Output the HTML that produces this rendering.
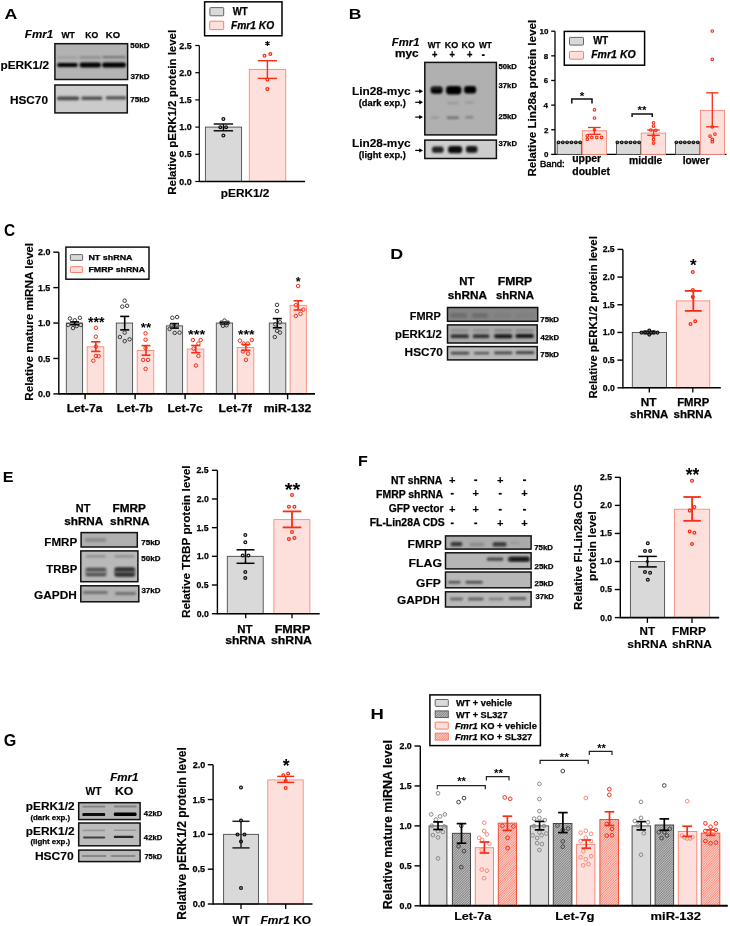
<!DOCTYPE html><html><head><meta charset="utf-8"><style>html,body{margin:0;padding:0;background:#fff;}svg{display:block;will-change:transform;}text{font-family:"Liberation Sans",sans-serif;}</style></head><body>
<svg width="730" height="926" viewBox="0 0 730 926">
<defs>
<filter id="bl1" x="-50%" y="-100%" width="200%" height="300%"><feGaussianBlur stdDeviation="0.85"/></filter>
<filter id="bl2" x="-50%" y="-100%" width="200%" height="300%"><feGaussianBlur stdDeviation="1.2"/></filter>
<filter id="bl4" x="-50%" y="-100%" width="200%" height="300%"><feGaussianBlur stdDeviation="0.65"/></filter>
<filter id="bl3" x="-50%" y="-100%" width="200%" height="300%"><feGaussianBlur stdDeviation="0.45"/></filter>
<pattern id="hg" patternUnits="userSpaceOnUse" width="1.7" height="1.7" patternTransform="rotate(45)"><rect width="1.7" height="1.7" fill="#c2c2c2"/><rect width="0.65" height="1.7" fill="#6e6e6e"/></pattern>
<pattern id="hp" patternUnits="userSpaceOnUse" width="1.7" height="1.7" patternTransform="rotate(45)"><rect width="1.7" height="1.7" fill="#fdd6d0"/><rect width="0.6" height="1.7" fill="#f46a56"/></pattern>
</defs>
<rect width="730" height="926" fill="#fff"/>
<text x="4.46" y="19.20" style="font-size:14.80px;font-weight:bold;stroke:#000;stroke-width:0.00px" fill="#000" textLength="12.83" lengthAdjust="spacingAndGlyphs">A</text>
<text x="24.87" y="38.20" style="font-size:11.56px;font-weight:bold;font-style:italic;stroke:#000;stroke-width:0.15px" fill="#000" textLength="28.27" lengthAdjust="spacingAndGlyphs">Fmr1</text>
<text x="61.50" y="37.70" style="font-size:9.40px;font-weight:bold;stroke:#000;stroke-width:0.25px" fill="#000" textLength="13.38" lengthAdjust="spacingAndGlyphs">WT</text>
<text x="85.34" y="37.70" style="font-size:9.20px;font-weight:bold;stroke:#000;stroke-width:0.25px" fill="#000" textLength="12.95" lengthAdjust="spacingAndGlyphs">KO</text>
<text x="105.89" y="37.70" style="font-size:9.20px;font-weight:bold;stroke:#000;stroke-width:0.25px" fill="#000" textLength="14.14" lengthAdjust="spacingAndGlyphs">KO</text>
<g>
<clipPath id="c17"><rect x="54.90" y="43.70" width="72.70" height="35.80"/></clipPath>
<rect x="54.90" y="43.70" width="72.70" height="35.80" fill="#b3b3b3" stroke="none" stroke-width="1.00" />
<g clip-path="url(#c17)">
<rect x="57.00" y="56.20" width="20.40" height="2.20" rx="0.88" fill="#8a8a8a" opacity="0.50" filter="url(#bl1)"/>
<rect x="79.70" y="56.20" width="21.00" height="2.20" rx="0.88" fill="#6a6a6a" opacity="0.60" filter="url(#bl1)"/>
<rect x="102.40" y="56.10" width="23.30" height="2.20" rx="0.88" fill="#5a5a5a" opacity="0.70" filter="url(#bl1)"/>
<rect x="57.30" y="63.10" width="20.30" height="3.80" rx="1.52" fill="#000" opacity="1.00" filter="url(#bl1)"/>
<rect x="79.70" y="62.50" width="21.20" height="5.00" rx="2.00" fill="#000" opacity="1.00" filter="url(#bl1)"/>
<rect x="102.20" y="62.50" width="23.70" height="5.00" rx="2.00" fill="#000" opacity="1.00" filter="url(#bl1)"/>
</g>
<rect x="54.90" y="43.70" width="72.70" height="35.80" fill="none" stroke="#111" stroke-width="1.50" />
</g>
<g>
<clipPath id="c30"><rect x="54.90" y="85.00" width="72.40" height="27.90"/></clipPath>
<rect x="54.90" y="85.00" width="72.40" height="27.90" fill="#cbcbcb" stroke="none" stroke-width="1.00" />
<g clip-path="url(#c30)">
<rect x="57.00" y="96.50" width="22.10" height="3.80" rx="1.52" fill="#333" opacity="0.85" filter="url(#bl1)"/>
<rect x="81.40" y="96.60" width="21.00" height="3.40" rx="1.36" fill="#333" opacity="0.80" filter="url(#bl1)"/>
<rect x="105.90" y="96.20" width="20.40" height="3.40" rx="1.36" fill="#333" opacity="0.80" filter="url(#bl1)"/>
</g>
<rect x="54.90" y="85.00" width="72.40" height="27.90" fill="none" stroke="#111" stroke-width="1.50" />
</g>
<text x="0.43" y="69.10" style="font-size:11.81px;font-weight:bold;stroke:#000;stroke-width:0.15px" fill="#000" textLength="48.57" lengthAdjust="spacingAndGlyphs">pERK1/2</text>
<text x="9.93" y="103.90" style="font-size:11.79px;font-weight:bold;stroke:#000;stroke-width:0.15px" fill="#000" textLength="38.02" lengthAdjust="spacingAndGlyphs">HSC70</text>
<text x="130.36" y="48.20" style="font-size:7.30px;font-weight:bold;stroke:#000;stroke-width:0.25px" fill="#000" textLength="19.17" lengthAdjust="spacingAndGlyphs">50kD</text>
<text x="130.40" y="78.80" style="font-size:7.30px;font-weight:bold;stroke:#000;stroke-width:0.25px" fill="#000" textLength="19.13" lengthAdjust="spacingAndGlyphs">37kD</text>
<text x="130.28" y="102.00" style="font-size:7.30px;font-weight:bold;stroke:#000;stroke-width:0.25px" fill="#000" textLength="19.25" lengthAdjust="spacingAndGlyphs">75kD</text>
<rect x="205.40" y="127.10" width="36.20" height="54.40" fill="#d9d9d9" stroke="#4a4a4a" stroke-width="0.90" />
<rect x="249.30" y="69.40" width="36.40" height="112.10" fill="#fde0dc" stroke="#f58a78" stroke-width="0.90" />
<line x1="199.30" y1="45.50" x2="199.30" y2="182.10" stroke="#000" stroke-width="1.20" />
<line x1="195.30" y1="181.50" x2="199.30" y2="181.50" stroke="#000" stroke-width="1.20" />
<text x="179.39" y="184.56" style="font-size:8.90px;font-weight:bold;stroke:#000;stroke-width:0.25px" fill="#000" textLength="12.37" lengthAdjust="spacingAndGlyphs">0.0</text>
<line x1="195.30" y1="154.30" x2="199.30" y2="154.30" stroke="#000" stroke-width="1.20" />
<text x="179.25" y="157.36" style="font-size:8.90px;font-weight:bold;stroke:#000;stroke-width:0.25px" fill="#000" textLength="12.37" lengthAdjust="spacingAndGlyphs">0.5</text>
<line x1="195.30" y1="127.10" x2="199.30" y2="127.10" stroke="#000" stroke-width="1.20" />
<text x="179.39" y="130.16" style="font-size:8.90px;font-weight:bold;stroke:#000;stroke-width:0.25px" fill="#000" textLength="12.37" lengthAdjust="spacingAndGlyphs">1.0</text>
<line x1="195.30" y1="99.90" x2="199.30" y2="99.90" stroke="#000" stroke-width="1.20" />
<text x="179.25" y="102.96" style="font-size:8.90px;font-weight:bold;stroke:#000;stroke-width:0.25px" fill="#000" textLength="12.37" lengthAdjust="spacingAndGlyphs">1.5</text>
<line x1="195.30" y1="72.70" x2="199.30" y2="72.70" stroke="#000" stroke-width="1.20" />
<text x="179.39" y="75.76" style="font-size:8.90px;font-weight:bold;stroke:#000;stroke-width:0.25px" fill="#000" textLength="12.37" lengthAdjust="spacingAndGlyphs">2.0</text>
<line x1="195.30" y1="45.50" x2="199.30" y2="45.50" stroke="#000" stroke-width="1.20" />
<text x="179.25" y="48.56" style="font-size:8.90px;font-weight:bold;stroke:#000;stroke-width:0.25px" fill="#000" textLength="12.37" lengthAdjust="spacingAndGlyphs">2.5</text>
<line x1="199.30" y1="181.50" x2="305.00" y2="181.50" stroke="#000" stroke-width="1.30" />
<line x1="213.70" y1="124.00" x2="233.10" y2="124.00" stroke="#000" stroke-width="1.40" />
<line x1="213.70" y1="130.80" x2="233.10" y2="130.80" stroke="#000" stroke-width="1.40" />
<line x1="223.40" y1="124.00" x2="223.40" y2="130.80" stroke="#000" stroke-width="1.40" />
<line x1="257.80" y1="60.70" x2="277.00" y2="60.70" stroke="#f72e16" stroke-width="1.40" />
<line x1="257.80" y1="78.40" x2="277.00" y2="78.40" stroke="#f72e16" stroke-width="1.40" />
<line x1="267.40" y1="60.70" x2="267.40" y2="78.40" stroke="#f72e16" stroke-width="1.40" />
<circle cx="223.40" cy="119.00" r="1.40" fill="none" stroke="#111" stroke-width="1.25"/>
<circle cx="220.30" cy="127.30" r="1.40" fill="none" stroke="#111" stroke-width="1.25"/>
<circle cx="226.10" cy="127.30" r="1.40" fill="none" stroke="#111" stroke-width="1.25"/>
<circle cx="223.40" cy="135.40" r="1.40" fill="none" stroke="#111" stroke-width="1.25"/>
<circle cx="264.50" cy="55.80" r="1.40" fill="none" stroke="#f72e16" stroke-width="1.25"/>
<circle cx="270.30" cy="53.90" r="1.40" fill="none" stroke="#f72e16" stroke-width="1.25"/>
<circle cx="267.40" cy="79.60" r="1.40" fill="none" stroke="#f72e16" stroke-width="1.25"/>
<circle cx="267.40" cy="89.10" r="1.40" fill="none" stroke="#f72e16" stroke-width="1.25"/>
<path d="M267.45 41.10 L267.45 46.10 M265.28 42.35 L269.62 44.85 M269.62 42.35 L265.28 44.85 " stroke="#000" stroke-width="1.15" fill="none" />
<rect x="204.60" y="1.85" width="77.40" height="33.90" fill="#fff" stroke="#000" stroke-width="1.50" />
<rect x="209.90" y="7.60" width="13.80" height="8.20" fill="#d9d9d9" stroke="#555" stroke-width="0.90" rx="0.8"/>
<rect x="209.70" y="21.20" width="14.00" height="8.40" fill="#fde0dc" stroke="#f7705c" stroke-width="0.90" rx="0.8"/>
<text x="232.70" y="15.00" style="font-size:10.00px;font-weight:bold;stroke:#000;stroke-width:0.25px" fill="#000" textLength="14.89" lengthAdjust="spacingAndGlyphs">WT</text>
<text x="230.89" y="28.60" style="font-size:10.25px;font-weight:bold;font-style:italic;stroke:#000;stroke-width:0.25px" fill="#000" textLength="43.29" lengthAdjust="spacingAndGlyphs">Fmr1 KO</text>
<text transform="translate(176.30 194.00) rotate(-90)" x="-0.74" y="0" style="font-size:11.45px;font-weight:bold;stroke:#000;stroke-width:0.15px" fill="#000" textLength="164.84" lengthAdjust="spacingAndGlyphs">Relative pERK1/2 protein level</text>
<text x="220.83" y="196.70" style="font-size:11.81px;font-weight:bold;stroke:#000;stroke-width:0.15px" fill="#000" textLength="48.57" lengthAdjust="spacingAndGlyphs">pERK1/2</text>
<text x="348.76" y="19.20" style="font-size:14.80px;font-weight:bold;stroke:#000;stroke-width:0.00px" fill="#000" textLength="12.67" lengthAdjust="spacingAndGlyphs">B</text>
<text x="391.87" y="46.30" style="font-size:11.31px;font-weight:bold;font-style:italic;stroke:#000;stroke-width:0.15px" fill="#000" textLength="27.65" lengthAdjust="spacingAndGlyphs">Fmr1</text>
<text x="427.80" y="47.60" style="font-size:8.80px;font-weight:bold;stroke:#000;stroke-width:0.25px" fill="#000" textLength="12.78" lengthAdjust="spacingAndGlyphs">WT</text>
<text x="444.72" y="47.60" style="font-size:8.80px;font-weight:bold;stroke:#000;stroke-width:0.25px" fill="#000" textLength="13.49" lengthAdjust="spacingAndGlyphs">KO</text>
<text x="461.62" y="47.60" style="font-size:8.80px;font-weight:bold;stroke:#000;stroke-width:0.25px" fill="#000" textLength="13.27" lengthAdjust="spacingAndGlyphs">KO</text>
<text x="479.00" y="47.60" style="font-size:8.80px;font-weight:bold;stroke:#000;stroke-width:0.25px" fill="#000" textLength="12.88" lengthAdjust="spacingAndGlyphs">WT</text>
<text x="394.94" y="57.10" style="font-size:10.50px;font-weight:bold;stroke:#000;stroke-width:0.25px" fill="#000" textLength="23.53" lengthAdjust="spacingAndGlyphs">myc</text>
<text x="431.98" y="57.89" style="font-size:10.50px;font-weight:bold;stroke:#000;stroke-width:0.25px" fill="#000" textLength="5.44" lengthAdjust="spacingAndGlyphs">+</text>
<text x="449.48" y="57.89" style="font-size:10.50px;font-weight:bold;stroke:#000;stroke-width:0.25px" fill="#000" textLength="5.44" lengthAdjust="spacingAndGlyphs">+</text>
<text x="466.88" y="57.89" style="font-size:10.50px;font-weight:bold;stroke:#000;stroke-width:0.25px" fill="#000" textLength="5.44" lengthAdjust="spacingAndGlyphs">+</text>
<rect x="481.90" y="54.20" width="2.70" height="1.80" fill="#000" stroke="none" stroke-width="1.00" />
<g>
<clipPath id="c94"><rect x="424.80" y="62.40" width="71.60" height="72.50"/></clipPath>
<rect x="424.80" y="62.40" width="71.60" height="72.50" fill="#b0b0b0" stroke="none" stroke-width="1.00" />
<g clip-path="url(#c94)">
<rect x="430.70" y="86.40" width="11.90" height="7.40" rx="2.96" fill="#050505" opacity="1.00" filter="url(#bl1)"/>
<rect x="446.00" y="85.90" width="15.40" height="8.60" rx="3.44" fill="#000" opacity="1.00" filter="url(#bl1)"/>
<rect x="464.10" y="85.90" width="12.10" height="7.60" rx="3.04" fill="#000" opacity="1.00" filter="url(#bl1)"/>
<rect x="431.00" y="86.95" width="11.00" height="2.50" rx="1.00" fill="#444" opacity="0.50" filter="url(#bl1)"/>
<rect x="447.00" y="101.75" width="12.00" height="2.50" rx="1.00" fill="#8a8a8a" opacity="0.60" filter="url(#bl1)"/>
<rect x="465.00" y="101.35" width="9.00" height="2.50" rx="1.00" fill="#8a8a8a" opacity="0.60" filter="url(#bl1)"/>
<rect x="430.70" y="116.60" width="8.30" height="2.20" rx="0.88" fill="#888" opacity="0.60" filter="url(#bl1)"/>
<rect x="446.70" y="116.40" width="12.30" height="2.60" rx="1.04" fill="#606060" opacity="0.80" filter="url(#bl1)"/>
<rect x="465.20" y="116.10" width="8.20" height="2.40" rx="0.96" fill="#707070" opacity="0.70" filter="url(#bl1)"/>
</g>
<rect x="424.80" y="62.40" width="71.60" height="72.50" fill="none" stroke="#111" stroke-width="1.50" />
</g>
<g>
<clipPath id="c110"><rect x="424.80" y="140.10" width="71.60" height="18.40"/></clipPath>
<rect x="424.80" y="140.10" width="71.60" height="18.40" fill="#cdcdcd" stroke="none" stroke-width="1.00" />
<g clip-path="url(#c110)">
<rect x="432.00" y="146.40" width="11.60" height="6.40" rx="2.56" fill="#222" opacity="1.00" filter="url(#bl1)"/>
<rect x="448.00" y="145.90" width="14.20" height="7.40" rx="2.96" fill="#111" opacity="1.00" filter="url(#bl1)"/>
<rect x="465.90" y="146.10" width="11.60" height="6.60" rx="2.64" fill="#151515" opacity="1.00" filter="url(#bl1)"/>
</g>
<rect x="424.80" y="140.10" width="71.60" height="18.40" fill="none" stroke="#111" stroke-width="1.50" />
</g>
<text x="352.03" y="94.90" style="font-size:11.84px;font-weight:bold;stroke:#000;stroke-width:0.15px" fill="#000" textLength="58.54" lengthAdjust="spacingAndGlyphs">Lin28-myc</text>
<text x="358.74" y="105.50" style="font-size:9.29px;font-weight:bold;stroke:#000;stroke-width:0.25px" fill="#000" textLength="47.00" lengthAdjust="spacingAndGlyphs">(dark exp.)</text>
<text x="352.03" y="146.70" style="font-size:11.84px;font-weight:bold;stroke:#000;stroke-width:0.15px" fill="#000" textLength="58.54" lengthAdjust="spacingAndGlyphs">Lin28-myc</text>
<text x="358.73" y="157.80" style="font-size:9.30px;font-weight:bold;stroke:#000;stroke-width:0.25px" fill="#000" textLength="47.03" lengthAdjust="spacingAndGlyphs">(light exp.)</text>
<line x1="415.20" y1="91.20" x2="420.50" y2="91.20" stroke="#000" stroke-width="1.20" />
<path d="M419.2 89.00 L423 91.20 L419.2 93.40 Z" stroke="none" stroke-width="0.00" fill="#000" />
<line x1="415.20" y1="102.30" x2="420.50" y2="102.30" stroke="#000" stroke-width="1.20" />
<path d="M419.2 100.10 L423 102.30 L419.2 104.50 Z" stroke="none" stroke-width="0.00" fill="#000" />
<line x1="415.20" y1="117.10" x2="420.50" y2="117.10" stroke="#000" stroke-width="1.20" />
<path d="M419.2 114.90 L423 117.10 L419.2 119.30 Z" stroke="none" stroke-width="0.00" fill="#000" />
<line x1="415.20" y1="150.40" x2="420.50" y2="150.40" stroke="#000" stroke-width="1.20" />
<path d="M419.2 148.20 L423 150.40 L419.2 152.60 Z" stroke="none" stroke-width="0.00" fill="#000" />
<text x="498.57" y="68.70" style="font-size:7.20px;font-weight:bold;stroke:#000;stroke-width:0.25px" fill="#000" textLength="18.34" lengthAdjust="spacingAndGlyphs">50kD</text>
<text x="498.61" y="87.50" style="font-size:7.20px;font-weight:bold;stroke:#000;stroke-width:0.25px" fill="#000" textLength="18.30" lengthAdjust="spacingAndGlyphs">37kD</text>
<text x="498.53" y="118.70" style="font-size:7.20px;font-weight:bold;stroke:#000;stroke-width:0.25px" fill="#000" textLength="18.38" lengthAdjust="spacingAndGlyphs">25kD</text>
<text x="498.61" y="146.10" style="font-size:7.20px;font-weight:bold;stroke:#000;stroke-width:0.25px" fill="#000" textLength="18.30" lengthAdjust="spacingAndGlyphs">37kD</text>
<line x1="555.00" y1="31.20" x2="555.00" y2="155.05" stroke="#000" stroke-width="1.30" />
<line x1="551.20" y1="154.40" x2="555.00" y2="154.40" stroke="#000" stroke-width="1.30" />
<text x="543.88" y="157.15" style="font-size:8.00px;font-weight:bold;stroke:#000;stroke-width:0.25px" fill="#000" textLength="4.45" lengthAdjust="spacingAndGlyphs">0</text>
<line x1="551.20" y1="129.76" x2="555.00" y2="129.76" stroke="#000" stroke-width="1.30" />
<text x="543.88" y="132.51" style="font-size:8.00px;font-weight:bold;stroke:#000;stroke-width:0.25px" fill="#000" textLength="4.45" lengthAdjust="spacingAndGlyphs">2</text>
<line x1="551.20" y1="105.12" x2="555.00" y2="105.12" stroke="#000" stroke-width="1.30" />
<text x="543.60" y="107.87" style="font-size:8.00px;font-weight:bold;stroke:#000;stroke-width:0.25px" fill="#000" textLength="4.45" lengthAdjust="spacingAndGlyphs">4</text>
<line x1="551.20" y1="80.48" x2="555.00" y2="80.48" stroke="#000" stroke-width="1.30" />
<text x="543.84" y="83.23" style="font-size:8.00px;font-weight:bold;stroke:#000;stroke-width:0.25px" fill="#000" textLength="4.45" lengthAdjust="spacingAndGlyphs">6</text>
<line x1="551.20" y1="55.84" x2="555.00" y2="55.84" stroke="#000" stroke-width="1.30" />
<text x="543.80" y="58.59" style="font-size:8.00px;font-weight:bold;stroke:#000;stroke-width:0.25px" fill="#000" textLength="4.45" lengthAdjust="spacingAndGlyphs">8</text>
<line x1="551.20" y1="31.20" x2="555.00" y2="31.20" stroke="#000" stroke-width="1.30" />
<text x="539.44" y="33.95" style="font-size:8.00px;font-weight:bold;stroke:#000;stroke-width:0.25px" fill="#000" textLength="8.90" lengthAdjust="spacingAndGlyphs">10</text>
<line x1="555.10" y1="154.40" x2="726.50" y2="154.40" stroke="#000" stroke-width="1.30" />
<rect x="557.20" y="142.08" width="24.40" height="12.32" fill="#d9d9d9" stroke="#4a4a4a" stroke-width="0.90" />
<rect x="582.30" y="130.75" width="24.30" height="23.65" fill="#fde0dc" stroke="#f58a78" stroke-width="0.90" />
<rect x="616.50" y="142.08" width="24.10" height="12.32" fill="#d9d9d9" stroke="#4a4a4a" stroke-width="0.90" />
<rect x="641.20" y="133.09" width="24.40" height="21.31" fill="#fde0dc" stroke="#f58a78" stroke-width="0.90" />
<rect x="675.50" y="142.08" width="24.30" height="12.32" fill="#d9d9d9" stroke="#4a4a4a" stroke-width="0.90" />
<rect x="700.40" y="110.42" width="24.20" height="43.98" fill="#fde0dc" stroke="#f58a78" stroke-width="0.90" />
<path d="M571.8 103.4 L571.8 99 L592 99 L592 103.4" stroke="#111" stroke-width="1.50" fill="none" />
<text x="579.80" y="100.15" style="font-size:11.81px;font-weight:bold;stroke:#000;stroke-width:0.00px" fill="#000" textLength="4.59" lengthAdjust="spacingAndGlyphs">*</text>
<path d="M632.1 117 L632.1 113.9 L652.3 113.9 L652.3 117" stroke="#111" stroke-width="1.50" fill="none" />
<text x="637.51" y="114.44" style="font-size:11.50px;font-weight:bold;stroke:#000;stroke-width:0.00px" fill="#000" textLength="8.95" lengthAdjust="spacingAndGlyphs">**</text>
<circle cx="558.50" cy="142.30" r="1.30" fill="none" stroke="#111" stroke-width="1.10"/>
<circle cx="562.80" cy="142.30" r="1.30" fill="none" stroke="#111" stroke-width="1.10"/>
<circle cx="567.10" cy="142.30" r="1.30" fill="none" stroke="#111" stroke-width="1.10"/>
<circle cx="571.40" cy="142.30" r="1.30" fill="none" stroke="#111" stroke-width="1.10"/>
<circle cx="575.80" cy="142.30" r="1.30" fill="none" stroke="#111" stroke-width="1.10"/>
<circle cx="580.10" cy="142.30" r="1.30" fill="none" stroke="#111" stroke-width="1.10"/>
<circle cx="617.30" cy="142.30" r="1.30" fill="none" stroke="#111" stroke-width="1.10"/>
<circle cx="621.70" cy="142.30" r="1.30" fill="none" stroke="#111" stroke-width="1.10"/>
<circle cx="626.10" cy="142.30" r="1.30" fill="none" stroke="#111" stroke-width="1.10"/>
<circle cx="630.50" cy="142.30" r="1.30" fill="none" stroke="#111" stroke-width="1.10"/>
<circle cx="634.80" cy="142.30" r="1.30" fill="none" stroke="#111" stroke-width="1.10"/>
<circle cx="639.10" cy="142.30" r="1.30" fill="none" stroke="#111" stroke-width="1.10"/>
<circle cx="676.30" cy="142.30" r="1.30" fill="none" stroke="#111" stroke-width="1.10"/>
<circle cx="680.60" cy="142.30" r="1.30" fill="none" stroke="#111" stroke-width="1.10"/>
<circle cx="684.80" cy="142.30" r="1.30" fill="none" stroke="#111" stroke-width="1.10"/>
<circle cx="689.10" cy="142.30" r="1.30" fill="none" stroke="#111" stroke-width="1.10"/>
<circle cx="693.40" cy="142.30" r="1.30" fill="none" stroke="#111" stroke-width="1.10"/>
<circle cx="697.80" cy="142.30" r="1.30" fill="none" stroke="#111" stroke-width="1.10"/>
<line x1="587.95" y1="127.50" x2="600.65" y2="127.50" stroke="#f72e16" stroke-width="1.30" />
<line x1="587.95" y1="134.30" x2="600.65" y2="134.30" stroke="#f72e16" stroke-width="1.30" />
<line x1="594.30" y1="127.50" x2="594.30" y2="134.30" stroke="#f72e16" stroke-width="1.30" />
<circle cx="594.50" cy="109.80" r="1.30" fill="none" stroke="#f72e16" stroke-width="1.10"/>
<circle cx="594.50" cy="118.00" r="1.30" fill="none" stroke="#f72e16" stroke-width="1.10"/>
<circle cx="594.50" cy="129.80" r="1.30" fill="none" stroke="#f72e16" stroke-width="1.10"/>
<circle cx="587.30" cy="135.80" r="1.30" fill="none" stroke="#f72e16" stroke-width="1.10"/>
<circle cx="587.30" cy="139.20" r="1.30" fill="none" stroke="#f72e16" stroke-width="1.10"/>
<circle cx="591.80" cy="137.40" r="1.30" fill="none" stroke="#f72e16" stroke-width="1.10"/>
<circle cx="596.80" cy="137.40" r="1.30" fill="none" stroke="#f72e16" stroke-width="1.10"/>
<circle cx="601.60" cy="137.40" r="1.30" fill="none" stroke="#f72e16" stroke-width="1.10"/>
<line x1="647.25" y1="130.00" x2="659.75" y2="130.00" stroke="#f72e16" stroke-width="1.30" />
<line x1="647.25" y1="135.30" x2="659.75" y2="135.30" stroke="#f72e16" stroke-width="1.30" />
<line x1="653.50" y1="130.00" x2="653.50" y2="135.30" stroke="#f72e16" stroke-width="1.30" />
<circle cx="653.50" cy="122.80" r="1.30" fill="none" stroke="#f72e16" stroke-width="1.10"/>
<circle cx="653.50" cy="126.10" r="1.30" fill="none" stroke="#f72e16" stroke-width="1.10"/>
<circle cx="650.80" cy="130.00" r="1.30" fill="none" stroke="#f72e16" stroke-width="1.10"/>
<circle cx="655.80" cy="130.30" r="1.30" fill="none" stroke="#f72e16" stroke-width="1.10"/>
<circle cx="653.50" cy="136.10" r="1.30" fill="none" stroke="#f72e16" stroke-width="1.10"/>
<circle cx="653.50" cy="139.40" r="1.30" fill="none" stroke="#f72e16" stroke-width="1.10"/>
<circle cx="653.50" cy="143.10" r="1.30" fill="none" stroke="#f72e16" stroke-width="1.10"/>
<line x1="706.10" y1="92.80" x2="718.50" y2="92.80" stroke="#f72e16" stroke-width="1.30" />
<line x1="706.10" y1="126.80" x2="718.50" y2="126.80" stroke="#f72e16" stroke-width="1.30" />
<line x1="712.30" y1="92.80" x2="712.30" y2="126.80" stroke="#f72e16" stroke-width="1.30" />
<circle cx="712.30" cy="31.00" r="1.30" fill="none" stroke="#f72e16" stroke-width="1.10"/>
<circle cx="712.30" cy="59.30" r="1.30" fill="none" stroke="#f72e16" stroke-width="1.10"/>
<circle cx="712.30" cy="126.80" r="1.30" fill="none" stroke="#f72e16" stroke-width="1.10"/>
<circle cx="710.00" cy="136.10" r="1.30" fill="none" stroke="#f72e16" stroke-width="1.10"/>
<circle cx="714.90" cy="134.10" r="1.30" fill="none" stroke="#f72e16" stroke-width="1.10"/>
<circle cx="712.30" cy="139.40" r="1.30" fill="none" stroke="#f72e16" stroke-width="1.10"/>
<circle cx="712.30" cy="141.70" r="1.30" fill="none" stroke="#f72e16" stroke-width="1.10"/>
<rect x="564.30" y="31.40" width="80.30" height="33.80" fill="#fff" stroke="#000" stroke-width="1.50" />
<rect x="569.50" y="37.40" width="14.00" height="7.70" fill="#d9d9d9" stroke="#555" stroke-width="0.90" rx="0.8"/>
<rect x="569.50" y="51.40" width="14.00" height="7.80" fill="#fde0dc" stroke="#f7705c" stroke-width="0.90" rx="0.8"/>
<text x="593.20" y="44.30" style="font-size:10.00px;font-weight:bold;stroke:#000;stroke-width:0.25px" fill="#000" textLength="14.89" lengthAdjust="spacingAndGlyphs">WT</text>
<text x="591.19" y="58.30" style="font-size:10.54px;font-weight:bold;font-style:italic;stroke:#000;stroke-width:0.25px" fill="#000" textLength="44.50" lengthAdjust="spacingAndGlyphs">Fmr1 KO</text>
<text transform="translate(535.90 175.80) rotate(-90)" x="-0.76" y="0" style="font-size:11.66px;font-weight:bold;stroke:#000;stroke-width:0.15px" fill="#000" textLength="156.87" lengthAdjust="spacingAndGlyphs">Relative Lin28a protein level</text>
<text x="539.94" y="166.80" style="font-size:8.60px;;stroke:#000;stroke-width:0.40px" fill="#000" textLength="24.74" lengthAdjust="spacingAndGlyphs">Band:</text>
<text x="572.17" y="161.90" style="font-size:10.00px;font-weight:bold;stroke:#000;stroke-width:0.25px" fill="#000" textLength="28.96" lengthAdjust="spacingAndGlyphs">upper</text>
<text x="572.38" y="174.50" style="font-size:10.00px;font-weight:bold;stroke:#000;stroke-width:0.25px" fill="#000" textLength="37.58" lengthAdjust="spacingAndGlyphs">doublet</text>
<text x="629.03" y="163.60" style="font-size:10.00px;font-weight:bold;stroke:#000;stroke-width:0.25px" fill="#000" textLength="33.36" lengthAdjust="spacingAndGlyphs">middle</text>
<text x="682.78" y="163.60" style="font-size:10.00px;font-weight:bold;stroke:#000;stroke-width:0.25px" fill="#000" textLength="26.74" lengthAdjust="spacingAndGlyphs">lower</text>
<text x="3.88" y="236.30" style="font-size:15.60px;font-weight:bold;stroke:#000;stroke-width:0.00px" fill="#000" textLength="11.14" lengthAdjust="spacingAndGlyphs">C</text>
<rect x="66.30" y="323.05" width="16.30" height="70.85" fill="#d9d9d9" stroke="#4a4a4a" stroke-width="0.90" />
<rect x="87.20" y="346.78" width="16.60" height="47.12" fill="#fde0dc" stroke="#f58a78" stroke-width="0.90" />
<rect x="116.30" y="323.05" width="16.30" height="70.85" fill="#d9d9d9" stroke="#4a4a4a" stroke-width="0.90" />
<rect x="137.20" y="350.47" width="16.60" height="43.43" fill="#fde0dc" stroke="#f58a78" stroke-width="0.90" />
<rect x="166.30" y="325.88" width="16.30" height="68.02" fill="#d9d9d9" stroke="#4a4a4a" stroke-width="0.90" />
<rect x="187.20" y="349.05" width="16.60" height="44.85" fill="#fde0dc" stroke="#f58a78" stroke-width="0.90" />
<rect x="216.30" y="323.05" width="16.30" height="70.85" fill="#d9d9d9" stroke="#4a4a4a" stroke-width="0.90" />
<rect x="237.20" y="347.49" width="16.60" height="46.41" fill="#fde0dc" stroke="#f58a78" stroke-width="0.90" />
<rect x="269.30" y="323.05" width="16.50" height="70.85" fill="#d9d9d9" stroke="#4a4a4a" stroke-width="0.90" />
<rect x="290.10" y="305.34" width="16.30" height="88.56" fill="#fde0dc" stroke="#f58a78" stroke-width="0.90" />
<line x1="58.80" y1="252.20" x2="58.80" y2="394.60" stroke="#000" stroke-width="1.40" />
<line x1="53.30" y1="393.90" x2="58.80" y2="393.90" stroke="#000" stroke-width="1.40" />
<text x="38.09" y="396.96" style="font-size:8.90px;font-weight:bold;stroke:#000;stroke-width:0.25px" fill="#000" textLength="12.37" lengthAdjust="spacingAndGlyphs">0.0</text>
<line x1="53.30" y1="358.47" x2="58.80" y2="358.47" stroke="#000" stroke-width="1.40" />
<text x="37.95" y="361.54" style="font-size:8.90px;font-weight:bold;stroke:#000;stroke-width:0.25px" fill="#000" textLength="12.37" lengthAdjust="spacingAndGlyphs">0.5</text>
<line x1="53.30" y1="323.05" x2="58.80" y2="323.05" stroke="#000" stroke-width="1.40" />
<text x="38.09" y="326.11" style="font-size:8.90px;font-weight:bold;stroke:#000;stroke-width:0.25px" fill="#000" textLength="12.37" lengthAdjust="spacingAndGlyphs">1.0</text>
<line x1="53.30" y1="287.62" x2="58.80" y2="287.62" stroke="#000" stroke-width="1.40" />
<text x="37.95" y="290.69" style="font-size:8.90px;font-weight:bold;stroke:#000;stroke-width:0.25px" fill="#000" textLength="12.37" lengthAdjust="spacingAndGlyphs">1.5</text>
<line x1="53.30" y1="252.20" x2="58.80" y2="252.20" stroke="#000" stroke-width="1.40" />
<text x="38.09" y="255.26" style="font-size:8.90px;font-weight:bold;stroke:#000;stroke-width:0.25px" fill="#000" textLength="12.37" lengthAdjust="spacingAndGlyphs">2.0</text>
<line x1="58.80" y1="393.90" x2="315.00" y2="393.90" stroke="#000" stroke-width="1.80" />
<line x1="85.10" y1="393.90" x2="85.10" y2="399.30" stroke="#000" stroke-width="1.40" />
<line x1="135.10" y1="393.90" x2="135.10" y2="399.30" stroke="#000" stroke-width="1.40" />
<line x1="185.10" y1="393.90" x2="185.10" y2="399.30" stroke="#000" stroke-width="1.40" />
<line x1="235.10" y1="393.90" x2="235.10" y2="399.30" stroke="#000" stroke-width="1.40" />
<line x1="287.60" y1="393.90" x2="287.60" y2="399.30" stroke="#000" stroke-width="1.40" />
<circle cx="69.90" cy="318.50" r="1.75" fill="none" stroke="#3a3a3a" stroke-width="1.00"/>
<circle cx="79.90" cy="317.80" r="1.75" fill="none" stroke="#3a3a3a" stroke-width="1.00"/>
<circle cx="74.80" cy="320.30" r="1.75" fill="none" stroke="#3a3a3a" stroke-width="1.00"/>
<circle cx="68.20" cy="324.90" r="1.75" fill="none" stroke="#3a3a3a" stroke-width="1.00"/>
<circle cx="73.00" cy="328.10" r="1.75" fill="none" stroke="#3a3a3a" stroke-width="1.00"/>
<circle cx="76.70" cy="326.00" r="1.75" fill="none" stroke="#3a3a3a" stroke-width="1.00"/>
<circle cx="80.80" cy="324.90" r="1.75" fill="none" stroke="#3a3a3a" stroke-width="1.00"/>
<line x1="70.10" y1="321.90" x2="79.10" y2="321.90" stroke="#000" stroke-width="1.60" />
<line x1="70.10" y1="324.70" x2="79.10" y2="324.70" stroke="#000" stroke-width="1.60" />
<line x1="74.60" y1="321.90" x2="74.60" y2="324.70" stroke="#000" stroke-width="1.60" />
<line x1="91.20" y1="341.80" x2="100.40" y2="341.80" stroke="#f72e16" stroke-width="1.60" />
<line x1="91.20" y1="351.40" x2="100.40" y2="351.40" stroke="#f72e16" stroke-width="1.60" />
<line x1="95.80" y1="341.80" x2="95.80" y2="351.40" stroke="#f72e16" stroke-width="1.60" />
<circle cx="95.90" cy="327.80" r="1.75" fill="none" stroke="#f72e16" stroke-width="1.00"/>
<circle cx="95.90" cy="336.70" r="1.75" fill="none" stroke="#f72e16" stroke-width="1.00"/>
<circle cx="95.90" cy="346.50" r="1.75" fill="none" stroke="#f72e16" stroke-width="1.00"/>
<circle cx="95.90" cy="355.90" r="1.75" fill="none" stroke="#f72e16" stroke-width="1.00"/>
<circle cx="98.60" cy="356.20" r="1.75" fill="none" stroke="#f72e16" stroke-width="1.00"/>
<circle cx="93.30" cy="360.70" r="1.75" fill="none" stroke="#f72e16" stroke-width="1.00"/>
<line x1="120.20" y1="316.40" x2="129.20" y2="316.40" stroke="#000" stroke-width="1.60" />
<line x1="120.20" y1="329.90" x2="129.20" y2="329.90" stroke="#000" stroke-width="1.60" />
<line x1="124.70" y1="316.40" x2="124.70" y2="329.90" stroke="#000" stroke-width="1.60" />
<circle cx="124.70" cy="300.70" r="1.75" fill="none" stroke="#3a3a3a" stroke-width="1.00"/>
<circle cx="122.30" cy="306.60" r="1.75" fill="none" stroke="#3a3a3a" stroke-width="1.00"/>
<circle cx="127.10" cy="305.80" r="1.75" fill="none" stroke="#3a3a3a" stroke-width="1.00"/>
<circle cx="124.70" cy="332.60" r="1.75" fill="none" stroke="#3a3a3a" stroke-width="1.00"/>
<circle cx="119.90" cy="337.00" r="1.75" fill="none" stroke="#3a3a3a" stroke-width="1.00"/>
<circle cx="124.70" cy="341.10" r="1.75" fill="none" stroke="#3a3a3a" stroke-width="1.00"/>
<circle cx="129.60" cy="339.30" r="1.75" fill="none" stroke="#3a3a3a" stroke-width="1.00"/>
<line x1="141.50" y1="345.60" x2="150.50" y2="345.60" stroke="#f72e16" stroke-width="1.60" />
<line x1="141.50" y1="355.20" x2="150.50" y2="355.20" stroke="#f72e16" stroke-width="1.60" />
<line x1="146.00" y1="345.60" x2="146.00" y2="355.20" stroke="#f72e16" stroke-width="1.60" />
<circle cx="145.60" cy="333.30" r="1.75" fill="none" stroke="#f72e16" stroke-width="1.00"/>
<circle cx="145.60" cy="339.70" r="1.75" fill="none" stroke="#f72e16" stroke-width="1.00"/>
<circle cx="145.60" cy="348.00" r="1.75" fill="none" stroke="#f72e16" stroke-width="1.00"/>
<circle cx="143.20" cy="359.90" r="1.75" fill="none" stroke="#f72e16" stroke-width="1.00"/>
<circle cx="148.10" cy="359.90" r="1.75" fill="none" stroke="#f72e16" stroke-width="1.00"/>
<circle cx="145.60" cy="368.90" r="1.75" fill="none" stroke="#f72e16" stroke-width="1.00"/>
<line x1="169.90" y1="323.60" x2="178.90" y2="323.60" stroke="#000" stroke-width="1.60" />
<line x1="169.90" y1="328.10" x2="178.90" y2="328.10" stroke="#000" stroke-width="1.60" />
<line x1="174.40" y1="323.60" x2="174.40" y2="328.10" stroke="#000" stroke-width="1.60" />
<circle cx="172.30" cy="317.80" r="1.75" fill="none" stroke="#3a3a3a" stroke-width="1.00"/>
<circle cx="177.10" cy="317.10" r="1.75" fill="none" stroke="#3a3a3a" stroke-width="1.00"/>
<circle cx="169.60" cy="329.00" r="1.75" fill="none" stroke="#3a3a3a" stroke-width="1.00"/>
<circle cx="174.70" cy="332.90" r="1.75" fill="none" stroke="#3a3a3a" stroke-width="1.00"/>
<circle cx="179.60" cy="332.60" r="1.75" fill="none" stroke="#3a3a3a" stroke-width="1.00"/>
<circle cx="171.50" cy="325.30" r="1.75" fill="none" stroke="#3a3a3a" stroke-width="1.00"/>
<circle cx="177.10" cy="325.30" r="1.75" fill="none" stroke="#3a3a3a" stroke-width="1.00"/>
<line x1="191.20" y1="345.50" x2="200.40" y2="345.50" stroke="#f72e16" stroke-width="1.60" />
<line x1="191.20" y1="352.70" x2="200.40" y2="352.70" stroke="#f72e16" stroke-width="1.60" />
<line x1="195.80" y1="345.50" x2="195.80" y2="352.70" stroke="#f72e16" stroke-width="1.60" />
<circle cx="192.90" cy="340.00" r="1.75" fill="none" stroke="#f72e16" stroke-width="1.00"/>
<circle cx="200.70" cy="340.00" r="1.75" fill="none" stroke="#f72e16" stroke-width="1.00"/>
<circle cx="198.40" cy="343.60" r="1.75" fill="none" stroke="#f72e16" stroke-width="1.00"/>
<circle cx="193.60" cy="348.60" r="1.75" fill="none" stroke="#f72e16" stroke-width="1.00"/>
<circle cx="198.40" cy="355.90" r="1.75" fill="none" stroke="#f72e16" stroke-width="1.00"/>
<circle cx="195.90" cy="365.50" r="1.75" fill="none" stroke="#f72e16" stroke-width="1.00"/>
<line x1="220.00" y1="322.30" x2="229.00" y2="322.30" stroke="#000" stroke-width="1.60" />
<line x1="220.00" y1="324.30" x2="229.00" y2="324.30" stroke="#000" stroke-width="1.60" />
<line x1="224.50" y1="322.30" x2="224.50" y2="324.30" stroke="#000" stroke-width="1.60" />
<circle cx="224.50" cy="320.60" r="1.75" fill="none" stroke="#3a3a3a" stroke-width="1.00"/>
<circle cx="221.30" cy="322.60" r="1.75" fill="none" stroke="#3a3a3a" stroke-width="1.00"/>
<circle cx="228.00" cy="322.60" r="1.75" fill="none" stroke="#3a3a3a" stroke-width="1.00"/>
<circle cx="223.00" cy="325.80" r="1.75" fill="none" stroke="#3a3a3a" stroke-width="1.00"/>
<circle cx="226.50" cy="325.30" r="1.75" fill="none" stroke="#3a3a3a" stroke-width="1.00"/>
<circle cx="224.50" cy="323.30" r="1.75" fill="none" stroke="#3a3a3a" stroke-width="1.00"/>
<line x1="241.40" y1="344.50" x2="250.40" y2="344.50" stroke="#f72e16" stroke-width="1.60" />
<line x1="241.40" y1="350.40" x2="250.40" y2="350.40" stroke="#f72e16" stroke-width="1.60" />
<line x1="245.90" y1="344.50" x2="245.90" y2="350.40" stroke="#f72e16" stroke-width="1.60" />
<circle cx="239.90" cy="340.70" r="1.75" fill="none" stroke="#f72e16" stroke-width="1.00"/>
<circle cx="251.80" cy="340.00" r="1.75" fill="none" stroke="#f72e16" stroke-width="1.00"/>
<circle cx="243.80" cy="343.60" r="1.75" fill="none" stroke="#f72e16" stroke-width="1.00"/>
<circle cx="247.70" cy="343.60" r="1.75" fill="none" stroke="#f72e16" stroke-width="1.00"/>
<circle cx="242.90" cy="351.40" r="1.75" fill="none" stroke="#f72e16" stroke-width="1.00"/>
<circle cx="248.10" cy="353.70" r="1.75" fill="none" stroke="#f72e16" stroke-width="1.00"/>
<circle cx="245.90" cy="359.90" r="1.75" fill="none" stroke="#f72e16" stroke-width="1.00"/>
<line x1="272.80" y1="318.60" x2="281.80" y2="318.60" stroke="#000" stroke-width="1.60" />
<line x1="272.80" y1="327.80" x2="281.80" y2="327.80" stroke="#000" stroke-width="1.60" />
<line x1="277.30" y1="318.60" x2="277.30" y2="327.80" stroke="#000" stroke-width="1.60" />
<circle cx="277.00" cy="304.80" r="1.75" fill="none" stroke="#3a3a3a" stroke-width="1.00"/>
<circle cx="277.00" cy="311.10" r="1.75" fill="none" stroke="#3a3a3a" stroke-width="1.00"/>
<circle cx="275.20" cy="324.40" r="1.75" fill="none" stroke="#3a3a3a" stroke-width="1.00"/>
<circle cx="280.00" cy="322.30" r="1.75" fill="none" stroke="#3a3a3a" stroke-width="1.00"/>
<circle cx="277.00" cy="330.80" r="1.75" fill="none" stroke="#3a3a3a" stroke-width="1.00"/>
<circle cx="280.00" cy="332.60" r="1.75" fill="none" stroke="#3a3a3a" stroke-width="1.00"/>
<circle cx="274.80" cy="337.00" r="1.75" fill="none" stroke="#3a3a3a" stroke-width="1.00"/>
<line x1="293.60" y1="300.80" x2="302.60" y2="300.80" stroke="#f72e16" stroke-width="1.60" />
<line x1="293.60" y1="310.00" x2="302.60" y2="310.00" stroke="#f72e16" stroke-width="1.60" />
<line x1="298.10" y1="300.80" x2="298.10" y2="310.00" stroke="#f72e16" stroke-width="1.60" />
<circle cx="298.10" cy="286.00" r="1.75" fill="none" stroke="#f72e16" stroke-width="1.00"/>
<circle cx="295.80" cy="305.20" r="1.75" fill="none" stroke="#f72e16" stroke-width="1.00"/>
<circle cx="303.30" cy="309.60" r="1.75" fill="none" stroke="#f72e16" stroke-width="1.00"/>
<circle cx="300.50" cy="313.80" r="1.75" fill="none" stroke="#f72e16" stroke-width="1.00"/>
<circle cx="295.80" cy="315.90" r="1.75" fill="none" stroke="#f72e16" stroke-width="1.00"/>
<text x="88.03" y="327.32" style="font-size:14.23px;font-weight:bold;stroke:#000;stroke-width:0.00px" fill="#000" textLength="16.50" lengthAdjust="spacingAndGlyphs">***</text>
<text x="140.78" y="331.95" style="font-size:12.11px;font-weight:bold;stroke:#000;stroke-width:0.00px" fill="#000" textLength="10.41" lengthAdjust="spacingAndGlyphs">**</text>
<text x="188.03" y="338.88" style="font-size:13.02px;font-weight:bold;stroke:#000;stroke-width:0.00px" fill="#000" textLength="17.11" lengthAdjust="spacingAndGlyphs">***</text>
<text x="238.03" y="338.96" style="font-size:12.41px;font-weight:bold;stroke:#000;stroke-width:0.00px" fill="#000" textLength="16.50" lengthAdjust="spacingAndGlyphs">***</text>
<text x="295.68" y="285.66" style="font-size:12.41px;font-weight:bold;stroke:#000;stroke-width:0.00px" fill="#000" textLength="4.83" lengthAdjust="spacingAndGlyphs">*</text>
<rect x="65.90" y="247.10" width="83.10" height="32.10" fill="#fff" stroke="#000" stroke-width="1.40" />
<rect x="70.40" y="254.60" width="12.20" height="5.80" fill="#d9d9d9" stroke="#555" stroke-width="0.90" rx="0.8"/>
<rect x="70.40" y="266.70" width="12.20" height="5.80" fill="#fde0dc" stroke="#f7705c" stroke-width="0.90" rx="0.8"/>
<text x="88.42" y="260.20" style="font-size:7.20px;font-weight:bold;stroke:#000;stroke-width:0.25px" fill="#000" textLength="44.14" lengthAdjust="spacingAndGlyphs">NT shRNA</text>
<text x="88.43" y="272.40" style="font-size:7.20px;font-weight:bold;stroke:#000;stroke-width:0.25px" fill="#000" textLength="56.71" lengthAdjust="spacingAndGlyphs">FMRP shRNA</text>
<text transform="translate(33.20 400.00) rotate(-90)" x="-0.76" y="0" style="font-size:11.67px;font-weight:bold;stroke:#000;stroke-width:0.15px" fill="#000" textLength="157.86" lengthAdjust="spacingAndGlyphs">Relative mature miRNA level</text>
<text x="66.71" y="412.00" style="font-size:10.60px;font-weight:bold;stroke:#000;stroke-width:0.25px" fill="#000" textLength="35.67" lengthAdjust="spacingAndGlyphs">Let-7a</text>
<text x="116.82" y="412.00" style="font-size:10.60px;font-weight:bold;stroke:#000;stroke-width:0.25px" fill="#000" textLength="36.17" lengthAdjust="spacingAndGlyphs">Let-7b</text>
<text x="167.42" y="412.00" style="font-size:10.60px;font-weight:bold;stroke:#000;stroke-width:0.25px" fill="#000" textLength="35.35" lengthAdjust="spacingAndGlyphs">Let-7c</text>
<text x="218.60" y="412.00" style="font-size:10.60px;font-weight:bold;stroke:#000;stroke-width:0.25px" fill="#000" textLength="33.36" lengthAdjust="spacingAndGlyphs">Let-7f</text>
<text x="263.81" y="412.00" style="font-size:10.60px;font-weight:bold;stroke:#000;stroke-width:0.25px" fill="#000" textLength="47.39" lengthAdjust="spacingAndGlyphs">miR-132</text>
<text x="390.34" y="258.80" style="font-size:14.80px;font-weight:bold;stroke:#000;stroke-width:0.00px" fill="#000" textLength="12.92" lengthAdjust="spacingAndGlyphs">D</text>
<text x="459.16" y="285.40" style="font-size:10.40px;font-weight:bold;stroke:#000;stroke-width:0.25px" fill="#000" textLength="15.19" lengthAdjust="spacingAndGlyphs">NT</text>
<text x="447.69" y="298.80" style="font-size:10.40px;font-weight:bold;stroke:#000;stroke-width:0.25px" fill="#000" textLength="39.25" lengthAdjust="spacingAndGlyphs">shRNA</text>
<text x="497.71" y="285.40" style="font-size:10.40px;font-weight:bold;stroke:#000;stroke-width:0.25px" fill="#000" textLength="34.49" lengthAdjust="spacingAndGlyphs">FMRP</text>
<text x="496.00" y="298.80" style="font-size:10.40px;font-weight:bold;stroke:#000;stroke-width:0.25px" fill="#000" textLength="38.13" lengthAdjust="spacingAndGlyphs">shRNA</text>
<g>
<clipPath id="c363"><rect x="447.50" y="307.50" width="90.20" height="13.80"/></clipPath>
<rect x="447.50" y="307.50" width="90.20" height="13.80" fill="#858585" stroke="none" stroke-width="1.00" />
<g clip-path="url(#c363)">
<rect x="449.90" y="312.90" width="17.20" height="5.00" rx="2.00" fill="#555" opacity="0.45" filter="url(#bl2)"/>
<rect x="472.00" y="312.90" width="15.70" height="5.00" rx="2.00" fill="#555" opacity="0.45" filter="url(#bl2)"/>
<rect x="494.20" y="313.40" width="16.50" height="4.00" rx="1.60" fill="#707070" opacity="0.30" filter="url(#bl2)"/>
<rect x="516.40" y="313.40" width="17.30" height="4.00" rx="1.60" fill="#707070" opacity="0.25" filter="url(#bl2)"/>
</g>
<rect x="447.50" y="307.50" width="90.20" height="13.80" fill="none" stroke="#111" stroke-width="1.50" />
</g>
<g>
<clipPath id="c374"><rect x="447.50" y="324.90" width="89.70" height="18.10"/></clipPath>
<rect x="447.50" y="324.90" width="89.70" height="18.10" fill="#a9a9a9" stroke="none" stroke-width="1.00" />
<g clip-path="url(#c374)">
<rect x="450.70" y="329.15" width="18.10" height="2.50" rx="1.00" fill="#7a7a7a" opacity="0.60" filter="url(#bl1)"/>
<rect x="472.90" y="329.15" width="16.40" height="2.50" rx="1.00" fill="#7a7a7a" opacity="0.60" filter="url(#bl1)"/>
<rect x="494.20" y="329.15" width="18.10" height="2.50" rx="1.00" fill="#6a6a6a" opacity="0.60" filter="url(#bl1)"/>
<rect x="515.60" y="329.15" width="18.10" height="2.50" rx="1.00" fill="#6a6a6a" opacity="0.60" filter="url(#bl1)"/>
<rect x="450.70" y="334.50" width="18.10" height="3.60" rx="1.44" fill="#1a1a1a" opacity="0.90" filter="url(#bl1)"/>
<rect x="472.90" y="334.50" width="16.40" height="3.60" rx="1.44" fill="#1a1a1a" opacity="0.90" filter="url(#bl1)"/>
<rect x="494.20" y="334.20" width="18.10" height="4.00" rx="1.60" fill="#151515" opacity="1.00" filter="url(#bl1)"/>
<rect x="515.60" y="334.00" width="18.10" height="4.00" rx="1.60" fill="#151515" opacity="1.00" filter="url(#bl1)"/>
</g>
<rect x="447.50" y="324.90" width="89.70" height="18.10" fill="none" stroke="#111" stroke-width="1.50" />
</g>
<g>
<clipPath id="c389"><rect x="447.50" y="346.60" width="89.70" height="13.30"/></clipPath>
<rect x="447.50" y="346.60" width="89.70" height="13.30" fill="#b9b9b9" stroke="none" stroke-width="1.00" />
<g clip-path="url(#c389)">
<rect x="450.70" y="351.80" width="18.60" height="2.60" rx="1.04" fill="#2a2a2a" opacity="0.80" filter="url(#bl1)"/>
<rect x="474.00" y="351.90" width="15.30" height="2.40" rx="0.96" fill="#2a2a2a" opacity="0.75" filter="url(#bl1)"/>
<rect x="494.20" y="351.60" width="18.10" height="2.60" rx="1.04" fill="#2a2a2a" opacity="0.80" filter="url(#bl1)"/>
<rect x="515.60" y="351.30" width="18.70" height="2.80" rx="1.12" fill="#2a2a2a" opacity="0.85" filter="url(#bl1)"/>
</g>
<rect x="447.50" y="346.60" width="89.70" height="13.30" fill="none" stroke="#111" stroke-width="1.50" />
</g>
<text x="409.79" y="320.30" style="font-size:11.80px;font-weight:bold;stroke:#000;stroke-width:0.15px" fill="#000" textLength="30.87" lengthAdjust="spacingAndGlyphs">FMRP</text>
<text x="395.06" y="337.80" style="font-size:11.80px;font-weight:bold;stroke:#000;stroke-width:0.15px" fill="#000" textLength="46.82" lengthAdjust="spacingAndGlyphs">pERK1/2</text>
<text x="404.63" y="356.30" style="font-size:11.80px;font-weight:bold;stroke:#000;stroke-width:0.15px" fill="#000" textLength="38.23" lengthAdjust="spacingAndGlyphs">HSC70</text>
<text x="540.29" y="322.20" style="font-size:7.20px;font-weight:bold;stroke:#000;stroke-width:0.25px" fill="#000" textLength="18.73" lengthAdjust="spacingAndGlyphs">75kD</text>
<text x="540.48" y="339.50" style="font-size:7.20px;font-weight:bold;stroke:#000;stroke-width:0.25px" fill="#000" textLength="18.53" lengthAdjust="spacingAndGlyphs">42kD</text>
<text x="540.29" y="356.70" style="font-size:7.20px;font-weight:bold;stroke:#000;stroke-width:0.25px" fill="#000" textLength="18.73" lengthAdjust="spacingAndGlyphs">75kD</text>
<rect x="632.30" y="332.44" width="34.20" height="55.36" fill="#d9d9d9" stroke="#4a4a4a" stroke-width="0.90" />
<rect x="676.30" y="300.90" width="33.50" height="86.90" fill="#fde0dc" stroke="#f58a78" stroke-width="0.90" />
<line x1="622.90" y1="249.40" x2="622.90" y2="388.50" stroke="#000" stroke-width="1.40" />
<line x1="617.40" y1="387.80" x2="622.90" y2="387.80" stroke="#000" stroke-width="1.40" />
<text x="602.79" y="390.76" style="font-size:8.60px;font-weight:bold;stroke:#000;stroke-width:0.25px" fill="#000" textLength="11.96" lengthAdjust="spacingAndGlyphs">0.0</text>
<line x1="617.40" y1="360.12" x2="622.90" y2="360.12" stroke="#000" stroke-width="1.40" />
<text x="602.66" y="363.08" style="font-size:8.60px;font-weight:bold;stroke:#000;stroke-width:0.25px" fill="#000" textLength="11.96" lengthAdjust="spacingAndGlyphs">0.5</text>
<line x1="617.40" y1="332.44" x2="622.90" y2="332.44" stroke="#000" stroke-width="1.40" />
<text x="602.79" y="335.40" style="font-size:8.60px;font-weight:bold;stroke:#000;stroke-width:0.25px" fill="#000" textLength="11.96" lengthAdjust="spacingAndGlyphs">1.0</text>
<line x1="617.40" y1="304.76" x2="622.90" y2="304.76" stroke="#000" stroke-width="1.40" />
<text x="602.66" y="307.72" style="font-size:8.60px;font-weight:bold;stroke:#000;stroke-width:0.25px" fill="#000" textLength="11.96" lengthAdjust="spacingAndGlyphs">1.5</text>
<line x1="617.40" y1="277.08" x2="622.90" y2="277.08" stroke="#000" stroke-width="1.40" />
<text x="602.79" y="280.04" style="font-size:8.60px;font-weight:bold;stroke:#000;stroke-width:0.25px" fill="#000" textLength="11.96" lengthAdjust="spacingAndGlyphs">2.0</text>
<line x1="617.40" y1="249.40" x2="622.90" y2="249.40" stroke="#000" stroke-width="1.40" />
<text x="602.66" y="252.36" style="font-size:8.60px;font-weight:bold;stroke:#000;stroke-width:0.25px" fill="#000" textLength="11.96" lengthAdjust="spacingAndGlyphs">2.5</text>
<line x1="622.90" y1="387.80" x2="720.80" y2="387.80" stroke="#000" stroke-width="1.60" />
<line x1="649.30" y1="387.80" x2="649.30" y2="392.50" stroke="#000" stroke-width="1.30" />
<line x1="692.80" y1="387.80" x2="692.80" y2="392.50" stroke="#000" stroke-width="1.30" />
<line x1="643.40" y1="331.20" x2="655.40" y2="331.20" stroke="#000" stroke-width="1.40" />
<line x1="643.40" y1="333.80" x2="655.40" y2="333.80" stroke="#000" stroke-width="1.40" />
<line x1="649.40" y1="331.20" x2="649.40" y2="333.80" stroke="#000" stroke-width="1.40" />
<circle cx="641.50" cy="332.60" r="1.40" fill="none" stroke="#111" stroke-width="1.25"/>
<circle cx="645.00" cy="332.30" r="1.40" fill="none" stroke="#111" stroke-width="1.25"/>
<circle cx="649.30" cy="330.40" r="1.40" fill="none" stroke="#111" stroke-width="1.25"/>
<circle cx="649.30" cy="334.60" r="1.40" fill="none" stroke="#111" stroke-width="1.25"/>
<circle cx="653.80" cy="332.30" r="1.40" fill="none" stroke="#111" stroke-width="1.25"/>
<circle cx="657.50" cy="332.60" r="1.40" fill="none" stroke="#111" stroke-width="1.25"/>
<line x1="684.85" y1="290.90" x2="701.75" y2="290.90" stroke="#f72e16" stroke-width="1.80" />
<line x1="684.85" y1="310.90" x2="701.75" y2="310.90" stroke="#f72e16" stroke-width="1.80" />
<line x1="693.30" y1="290.90" x2="693.30" y2="310.90" stroke="#f72e16" stroke-width="1.80" />
<circle cx="692.80" cy="272.00" r="1.40" fill="none" stroke="#f72e16" stroke-width="1.25"/>
<circle cx="692.80" cy="289.90" r="1.40" fill="none" stroke="#f72e16" stroke-width="1.25"/>
<circle cx="692.80" cy="296.90" r="1.40" fill="none" stroke="#f72e16" stroke-width="1.25"/>
<circle cx="690.50" cy="323.90" r="1.40" fill="none" stroke="#f72e16" stroke-width="1.25"/>
<circle cx="695.20" cy="321.30" r="1.40" fill="none" stroke="#f72e16" stroke-width="1.25"/>
<circle cx="692.80" cy="296.90" r="1.30" fill="#f72e16" stroke="#f72e16" stroke-width="0.50"/>
<text x="689.99" y="271.10" style="font-size:16.95px;font-weight:bold;stroke:#000;stroke-width:0.00px" fill="#000" textLength="6.60" lengthAdjust="spacingAndGlyphs">*</text>
<text transform="translate(597.00 397.80) rotate(-90)" x="-0.73" y="0" style="font-size:11.28px;font-weight:bold;stroke:#000;stroke-width:0.15px" fill="#000" textLength="162.31" lengthAdjust="spacingAndGlyphs">Relative pERK1/2 protein level</text>
<text x="640.73" y="405.80" style="font-size:10.60px;font-weight:bold;stroke:#000;stroke-width:0.25px" fill="#000" textLength="15.72" lengthAdjust="spacingAndGlyphs">NT</text>
<text x="630.10" y="417.70" style="font-size:10.60px;font-weight:bold;stroke:#000;stroke-width:0.25px" fill="#000" textLength="38.13" lengthAdjust="spacingAndGlyphs">shRNA</text>
<text x="677.17" y="405.80" style="font-size:10.60px;font-weight:bold;stroke:#000;stroke-width:0.25px" fill="#000" textLength="32.01" lengthAdjust="spacingAndGlyphs">FMRP</text>
<text x="673.49" y="417.70" style="font-size:10.60px;font-weight:bold;stroke:#000;stroke-width:0.25px" fill="#000" textLength="38.64" lengthAdjust="spacingAndGlyphs">shRNA</text>
<text x="2.65" y="482.40" style="font-size:14.80px;font-weight:bold;stroke:#000;stroke-width:0.00px" fill="#000" textLength="10.74" lengthAdjust="spacingAndGlyphs">E</text>
<text x="75.79" y="511.50" style="font-size:10.40px;font-weight:bold;stroke:#000;stroke-width:0.25px" fill="#000" textLength="14.55" lengthAdjust="spacingAndGlyphs">NT</text>
<text x="64.19" y="525.00" style="font-size:10.40px;font-weight:bold;stroke:#000;stroke-width:0.25px" fill="#000" textLength="39.15" lengthAdjust="spacingAndGlyphs">shRNA</text>
<text x="112.64" y="511.50" style="font-size:10.40px;font-weight:bold;stroke:#000;stroke-width:0.25px" fill="#000" textLength="33.25" lengthAdjust="spacingAndGlyphs">FMRP</text>
<text x="110.09" y="525.00" style="font-size:10.40px;font-weight:bold;stroke:#000;stroke-width:0.25px" fill="#000" textLength="39.45" lengthAdjust="spacingAndGlyphs">shRNA</text>
<g>
<clipPath id="c453"><rect x="81.10" y="532.60" width="56.20" height="14.40"/></clipPath>
<rect x="81.10" y="532.60" width="56.20" height="14.40" fill="#b0b0b0" stroke="none" stroke-width="1.00" />
<g clip-path="url(#c453)">
<rect x="84.90" y="538.00" width="21.50" height="4.00" rx="1.60" fill="#777" opacity="0.60" filter="url(#bl2)"/>
</g>
<rect x="81.10" y="532.60" width="56.20" height="14.40" fill="none" stroke="#111" stroke-width="1.50" />
</g>
<g>
<clipPath id="c461"><rect x="80.80" y="550.90" width="57.10" height="30.80"/></clipPath>
<rect x="80.80" y="550.90" width="57.10" height="30.80" fill="#b9b9b9" stroke="none" stroke-width="1.00" />
<g clip-path="url(#c461)">
<rect x="86.10" y="555.50" width="19.70" height="1.80" rx="0.72" fill="#555" opacity="0.60" filter="url(#bl1)"/>
<rect x="114.50" y="555.50" width="19.70" height="1.80" rx="0.72" fill="#555" opacity="0.60" filter="url(#bl1)"/>
<rect x="85.00" y="567.50" width="22.00" height="9.00" rx="3.60" fill="#666" opacity="0.45" filter="url(#bl2)"/>
<rect x="114.00" y="567.25" width="21.50" height="9.50" rx="3.80" fill="#444" opacity="0.60" filter="url(#bl2)"/>
<rect x="86.00" y="568.10" width="20.00" height="3.00" rx="1.20" fill="#333" opacity="0.70" filter="url(#bl1)"/>
<rect x="86.00" y="573.30" width="20.00" height="2.80" rx="1.12" fill="#333" opacity="0.75" filter="url(#bl1)"/>
<rect x="115.00" y="567.70" width="19.50" height="3.40" rx="1.36" fill="#1a1a1a" opacity="0.85" filter="url(#bl1)"/>
<rect x="115.00" y="573.10" width="19.50" height="3.20" rx="1.28" fill="#1a1a1a" opacity="0.85" filter="url(#bl1)"/>
</g>
<rect x="80.80" y="550.90" width="57.10" height="30.80" fill="none" stroke="#111" stroke-width="1.50" />
</g>
<g>
<clipPath id="c476"><rect x="80.80" y="585.80" width="58.00" height="16.00"/></clipPath>
<rect x="80.80" y="585.80" width="58.00" height="16.00" fill="#b3b3b3" stroke="none" stroke-width="1.00" />
<g clip-path="url(#c476)">
<rect x="83.00" y="591.10" width="24.70" height="3.00" rx="1.20" fill="#555" opacity="0.70" filter="url(#bl2)"/>
<rect x="115.10" y="591.90" width="20.90" height="3.00" rx="1.20" fill="#555" opacity="0.70" filter="url(#bl2)"/>
</g>
<rect x="80.80" y="585.80" width="58.00" height="16.00" fill="none" stroke="#111" stroke-width="1.50" />
</g>
<text x="44.34" y="545.50" style="font-size:11.80px;font-weight:bold;stroke:#000;stroke-width:0.15px" fill="#000" textLength="32.94" lengthAdjust="spacingAndGlyphs">FMRP</text>
<text x="46.29" y="573.10" style="font-size:11.80px;font-weight:bold;stroke:#000;stroke-width:0.15px" fill="#000" textLength="30.98" lengthAdjust="spacingAndGlyphs">TRBP</text>
<text x="34.03" y="599.00" style="font-size:11.80px;font-weight:bold;stroke:#000;stroke-width:0.15px" fill="#000" textLength="42.76" lengthAdjust="spacingAndGlyphs">GAPDH</text>
<text x="141.28" y="545.30" style="font-size:7.30px;font-weight:bold;stroke:#000;stroke-width:0.25px" fill="#000" textLength="19.15" lengthAdjust="spacingAndGlyphs">75kD</text>
<text x="141.36" y="560.80" style="font-size:7.30px;font-weight:bold;stroke:#000;stroke-width:0.25px" fill="#000" textLength="19.06" lengthAdjust="spacingAndGlyphs">50kD</text>
<text x="141.40" y="593.40" style="font-size:7.30px;font-weight:bold;stroke:#000;stroke-width:0.25px" fill="#000" textLength="19.02" lengthAdjust="spacingAndGlyphs">37kD</text>
<rect x="227.30" y="556.34" width="35.90" height="57.36" fill="#d9d9d9" stroke="#4a4a4a" stroke-width="0.90" />
<rect x="273.90" y="519.60" width="36.00" height="94.10" fill="#fde0dc" stroke="#f58a78" stroke-width="0.90" />
<line x1="217.40" y1="470.30" x2="217.40" y2="614.40" stroke="#000" stroke-width="1.40" />
<line x1="211.90" y1="613.70" x2="217.40" y2="613.70" stroke="#000" stroke-width="1.40" />
<text x="196.66" y="616.69" style="font-size:8.70px;font-weight:bold;stroke:#000;stroke-width:0.25px" fill="#000" textLength="12.09" lengthAdjust="spacingAndGlyphs">0.0</text>
<line x1="211.90" y1="585.02" x2="217.40" y2="585.02" stroke="#000" stroke-width="1.40" />
<text x="196.52" y="588.01" style="font-size:8.70px;font-weight:bold;stroke:#000;stroke-width:0.25px" fill="#000" textLength="12.09" lengthAdjust="spacingAndGlyphs">0.5</text>
<line x1="211.90" y1="556.34" x2="217.40" y2="556.34" stroke="#000" stroke-width="1.40" />
<text x="196.66" y="559.33" style="font-size:8.70px;font-weight:bold;stroke:#000;stroke-width:0.25px" fill="#000" textLength="12.09" lengthAdjust="spacingAndGlyphs">1.0</text>
<line x1="211.90" y1="527.66" x2="217.40" y2="527.66" stroke="#000" stroke-width="1.40" />
<text x="196.52" y="530.65" style="font-size:8.70px;font-weight:bold;stroke:#000;stroke-width:0.25px" fill="#000" textLength="12.09" lengthAdjust="spacingAndGlyphs">1.5</text>
<line x1="211.90" y1="498.98" x2="217.40" y2="498.98" stroke="#000" stroke-width="1.40" />
<text x="196.66" y="501.97" style="font-size:8.70px;font-weight:bold;stroke:#000;stroke-width:0.25px" fill="#000" textLength="12.09" lengthAdjust="spacingAndGlyphs">2.0</text>
<line x1="211.90" y1="470.30" x2="217.40" y2="470.30" stroke="#000" stroke-width="1.40" />
<text x="196.52" y="473.29" style="font-size:8.70px;font-weight:bold;stroke:#000;stroke-width:0.25px" fill="#000" textLength="12.09" lengthAdjust="spacingAndGlyphs">2.5</text>
<line x1="217.40" y1="613.70" x2="319.70" y2="613.70" stroke="#000" stroke-width="1.60" />
<line x1="245.70" y1="613.70" x2="245.70" y2="618.20" stroke="#000" stroke-width="1.30" />
<line x1="292.00" y1="613.70" x2="292.00" y2="618.20" stroke="#000" stroke-width="1.30" />
<line x1="236.55" y1="549.80" x2="254.45" y2="549.80" stroke="#000" stroke-width="1.50" />
<line x1="236.55" y1="563.30" x2="254.45" y2="563.30" stroke="#000" stroke-width="1.50" />
<line x1="245.50" y1="549.80" x2="245.50" y2="563.30" stroke="#000" stroke-width="1.50" />
<circle cx="245.30" cy="535.00" r="1.40" fill="none" stroke="#111" stroke-width="1.25"/>
<circle cx="245.30" cy="542.20" r="1.40" fill="none" stroke="#111" stroke-width="1.25"/>
<circle cx="242.70" cy="555.50" r="1.40" fill="none" stroke="#111" stroke-width="1.25"/>
<circle cx="248.40" cy="555.50" r="1.40" fill="none" stroke="#111" stroke-width="1.25"/>
<circle cx="245.30" cy="572.00" r="1.40" fill="none" stroke="#111" stroke-width="1.25"/>
<circle cx="245.30" cy="578.10" r="1.40" fill="none" stroke="#111" stroke-width="1.25"/>
<line x1="282.75" y1="511.40" x2="301.25" y2="511.40" stroke="#f72e16" stroke-width="1.80" />
<line x1="282.75" y1="527.40" x2="301.25" y2="527.40" stroke="#f72e16" stroke-width="1.80" />
<line x1="292.00" y1="511.40" x2="292.00" y2="527.40" stroke="#f72e16" stroke-width="1.80" />
<circle cx="292.00" cy="494.90" r="1.40" fill="none" stroke="#f72e16" stroke-width="1.25"/>
<circle cx="288.90" cy="506.80" r="1.40" fill="none" stroke="#f72e16" stroke-width="1.25"/>
<circle cx="294.40" cy="506.80" r="1.40" fill="none" stroke="#f72e16" stroke-width="1.25"/>
<circle cx="292.00" cy="531.90" r="1.40" fill="none" stroke="#f72e16" stroke-width="1.25"/>
<circle cx="288.90" cy="539.10" r="1.40" fill="none" stroke="#f72e16" stroke-width="1.25"/>
<circle cx="294.40" cy="538.10" r="1.40" fill="none" stroke="#f72e16" stroke-width="1.25"/>
<text x="284.70" y="495.55" style="font-size:18.77px;font-weight:bold;stroke:#000;stroke-width:0.00px" fill="#000" textLength="15.57" lengthAdjust="spacingAndGlyphs">**</text>
<text transform="translate(190.20 617.20) rotate(-90)" x="-0.76" y="0" style="font-size:11.75px;font-weight:bold;stroke:#000;stroke-width:0.15px" fill="#000" textLength="152.54" lengthAdjust="spacingAndGlyphs">Relative TRBP protein level</text>
<text x="237.15" y="632.60" style="font-size:10.60px;font-weight:bold;stroke:#000;stroke-width:0.25px" fill="#000" textLength="15.30" lengthAdjust="spacingAndGlyphs">NT</text>
<text x="225.18" y="643.90" style="font-size:10.60px;font-weight:bold;stroke:#000;stroke-width:0.25px" fill="#000" textLength="40.47" lengthAdjust="spacingAndGlyphs">shRNA</text>
<text x="274.68" y="632.60" style="font-size:10.60px;font-weight:bold;stroke:#000;stroke-width:0.25px" fill="#000" textLength="35.63" lengthAdjust="spacingAndGlyphs">FMRP</text>
<text x="270.97" y="643.90" style="font-size:10.60px;font-weight:bold;stroke:#000;stroke-width:0.25px" fill="#000" textLength="40.88" lengthAdjust="spacingAndGlyphs">shRNA</text>
<text x="358.05" y="466.00" style="font-size:14.80px;font-weight:bold;stroke:#000;stroke-width:0.00px" fill="#000" textLength="9.82" lengthAdjust="spacingAndGlyphs">F</text>
<text x="390.93" y="484.10" style="font-size:10.00px;font-weight:bold;stroke:#000;stroke-width:0.25px" fill="#000" textLength="51.28" lengthAdjust="spacingAndGlyphs">NT shRNA</text>
<text x="376.12" y="498.40" style="font-size:10.00px;font-weight:bold;stroke:#000;stroke-width:0.25px" fill="#000" textLength="66.85" lengthAdjust="spacingAndGlyphs">FMRP shRNA</text>
<text x="388.79" y="512.40" style="font-size:10.00px;font-weight:bold;stroke:#000;stroke-width:0.25px" fill="#000" textLength="54.74" lengthAdjust="spacingAndGlyphs">GFP vector</text>
<text x="369.73" y="526.20" style="font-size:10.00px;font-weight:bold;stroke:#000;stroke-width:0.25px" fill="#000" textLength="75.05" lengthAdjust="spacingAndGlyphs">FL-Lin28A CDS</text>
<text x="448.96" y="483.53" style="font-size:11.00px;font-weight:bold;stroke:#000;stroke-width:0.15px" fill="#000" textLength="6.48" lengthAdjust="spacingAndGlyphs">+</text>
<rect x="474.20" y="479.40" width="3.00" height="1.70" fill="#000" stroke="none" stroke-width="1.00" />
<text x="496.96" y="483.53" style="font-size:11.00px;font-weight:bold;stroke:#000;stroke-width:0.15px" fill="#000" textLength="6.48" lengthAdjust="spacingAndGlyphs">+</text>
<rect x="523.00" y="479.40" width="3.00" height="1.70" fill="#000" stroke="none" stroke-width="1.00" />
<rect x="450.70" y="492.90" width="3.00" height="1.70" fill="#000" stroke="none" stroke-width="1.00" />
<text x="472.46" y="497.03" style="font-size:11.00px;font-weight:bold;stroke:#000;stroke-width:0.15px" fill="#000" textLength="6.48" lengthAdjust="spacingAndGlyphs">+</text>
<rect x="498.70" y="492.90" width="3.00" height="1.70" fill="#000" stroke="none" stroke-width="1.00" />
<text x="521.26" y="497.03" style="font-size:11.00px;font-weight:bold;stroke:#000;stroke-width:0.15px" fill="#000" textLength="6.48" lengthAdjust="spacingAndGlyphs">+</text>
<text x="448.96" y="513.03" style="font-size:11.00px;font-weight:bold;stroke:#000;stroke-width:0.15px" fill="#000" textLength="6.48" lengthAdjust="spacingAndGlyphs">+</text>
<text x="472.46" y="513.03" style="font-size:11.00px;font-weight:bold;stroke:#000;stroke-width:0.15px" fill="#000" textLength="6.48" lengthAdjust="spacingAndGlyphs">+</text>
<rect x="498.70" y="508.90" width="3.00" height="1.70" fill="#000" stroke="none" stroke-width="1.00" />
<rect x="523.00" y="508.90" width="3.00" height="1.70" fill="#000" stroke="none" stroke-width="1.00" />
<rect x="450.70" y="522.50" width="3.00" height="1.70" fill="#000" stroke="none" stroke-width="1.00" />
<rect x="474.20" y="522.50" width="3.00" height="1.70" fill="#000" stroke="none" stroke-width="1.00" />
<text x="496.96" y="526.63" style="font-size:11.00px;font-weight:bold;stroke:#000;stroke-width:0.15px" fill="#000" textLength="6.48" lengthAdjust="spacingAndGlyphs">+</text>
<text x="521.26" y="526.63" style="font-size:11.00px;font-weight:bold;stroke:#000;stroke-width:0.15px" fill="#000" textLength="6.48" lengthAdjust="spacingAndGlyphs">+</text>
<g>
<clipPath id="c554"><rect x="445.50" y="535.90" width="85.60" height="13.20"/></clipPath>
<rect x="445.50" y="535.90" width="85.60" height="13.20" fill="#ababab" stroke="none" stroke-width="1.00" />
<g clip-path="url(#c554)">
<rect x="450.70" y="542.10" width="11.50" height="4.20" rx="1.68" fill="#222" opacity="0.85" filter="url(#bl2)"/>
<rect x="469.60" y="542.75" width="14.80" height="3.50" rx="1.40" fill="#666" opacity="0.45" filter="url(#bl2)"/>
<rect x="492.60" y="542.20" width="14.00" height="4.20" rx="1.68" fill="#222" opacity="0.85" filter="url(#bl2)"/>
<rect x="510.00" y="541.50" width="10.00" height="3.00" rx="1.20" fill="#777" opacity="0.30" filter="url(#bl2)"/>
</g>
<rect x="445.50" y="535.90" width="85.60" height="13.20" fill="none" stroke="#111" stroke-width="1.50" />
</g>
<g>
<clipPath id="c565"><rect x="445.50" y="552.80" width="85.60" height="16.10"/></clipPath>
<rect x="445.50" y="552.80" width="85.60" height="16.10" fill="#b5b5b5" stroke="none" stroke-width="1.00" />
<g clip-path="url(#c565)">
<rect x="486.90" y="557.40" width="16.40" height="3.40" rx="1.36" fill="#2a2a2a" opacity="0.80" filter="url(#bl1)"/>
<rect x="507.50" y="556.50" width="22.50" height="5.60" rx="2.24" fill="#333" opacity="0.70" filter="url(#bl2)"/>
<rect x="509.50" y="557.20" width="19.50" height="3.80" rx="1.52" fill="#0a0a0a" opacity="0.90" filter="url(#bl1)"/>
</g>
<rect x="445.50" y="552.80" width="85.60" height="16.10" fill="none" stroke="#111" stroke-width="1.50" />
</g>
<g>
<clipPath id="c575"><rect x="445.50" y="572.00" width="85.60" height="15.80"/></clipPath>
<rect x="445.50" y="572.00" width="85.60" height="15.80" fill="#b7b7b7" stroke="none" stroke-width="1.00" />
<g clip-path="url(#c575)">
<rect x="448.20" y="581.00" width="12.30" height="2.60" rx="1.04" fill="#333" opacity="0.80" filter="url(#bl1)"/>
<rect x="465.50" y="581.00" width="17.20" height="2.60" rx="1.04" fill="#333" opacity="0.85" filter="url(#bl1)"/>
</g>
<rect x="445.50" y="572.00" width="85.60" height="15.80" fill="none" stroke="#111" stroke-width="1.50" />
</g>
<g>
<clipPath id="c584"><rect x="445.50" y="591.80" width="85.60" height="15.20"/></clipPath>
<rect x="445.50" y="591.80" width="85.60" height="15.20" fill="#b9b9b9" stroke="none" stroke-width="1.00" />
<g clip-path="url(#c584)">
<rect x="449.90" y="597.60" width="13.10" height="2.80" rx="1.12" fill="#4a4a4a" opacity="0.70" filter="url(#bl2)"/>
<rect x="467.90" y="597.50" width="15.70" height="3.00" rx="1.20" fill="#444" opacity="0.75" filter="url(#bl2)"/>
<rect x="488.50" y="597.70" width="14.80" height="2.60" rx="1.04" fill="#555" opacity="0.60" filter="url(#bl2)"/>
<rect x="509.00" y="597.10" width="17.30" height="3.00" rx="1.20" fill="#444" opacity="0.75" filter="url(#bl2)"/>
</g>
<rect x="445.50" y="591.80" width="85.60" height="15.20" fill="none" stroke="#111" stroke-width="1.50" />
</g>
<text x="407.62" y="547.70" style="font-size:11.80px;font-weight:bold;stroke:#000;stroke-width:0.15px" fill="#000" textLength="34.08" lengthAdjust="spacingAndGlyphs">FMRP</text>
<text x="408.40" y="566.60" style="font-size:11.80px;font-weight:bold;stroke:#000;stroke-width:0.15px" fill="#000" textLength="33.67" lengthAdjust="spacingAndGlyphs">FLAG</text>
<text x="416.12" y="586.60" style="font-size:11.80px;font-weight:bold;stroke:#000;stroke-width:0.15px" fill="#000" textLength="24.75" lengthAdjust="spacingAndGlyphs">GFP</text>
<text x="397.03" y="603.80" style="font-size:11.80px;font-weight:bold;stroke:#000;stroke-width:0.15px" fill="#000" textLength="42.86" lengthAdjust="spacingAndGlyphs">GAPDH</text>
<text x="534.19" y="550.00" style="font-size:7.40px;font-weight:bold;stroke:#000;stroke-width:0.25px" fill="#000" textLength="18.73" lengthAdjust="spacingAndGlyphs">75kD</text>
<text x="534.52" y="568.60" style="font-size:7.40px;font-weight:bold;stroke:#000;stroke-width:0.25px" fill="#000" textLength="19.00" lengthAdjust="spacingAndGlyphs">25kD</text>
<text x="534.52" y="585.90" style="font-size:7.40px;font-weight:bold;stroke:#000;stroke-width:0.25px" fill="#000" textLength="19.00" lengthAdjust="spacingAndGlyphs">25kD</text>
<text x="535.41" y="599.00" style="font-size:7.40px;font-weight:bold;stroke:#000;stroke-width:0.25px" fill="#000" textLength="18.30" lengthAdjust="spacingAndGlyphs">37kD</text>
<rect x="630.40" y="561.50" width="34.20" height="56.10" fill="#d9d9d9" stroke="#4a4a4a" stroke-width="0.90" />
<rect x="674.40" y="509.20" width="35.20" height="108.40" fill="#fde0dc" stroke="#f58a78" stroke-width="0.90" />
<line x1="620.30" y1="477.35" x2="620.30" y2="618.30" stroke="#000" stroke-width="1.40" />
<line x1="614.80" y1="617.60" x2="620.30" y2="617.60" stroke="#000" stroke-width="1.40" />
<text x="600.23" y="620.52" style="font-size:8.50px;font-weight:bold;stroke:#000;stroke-width:0.25px" fill="#000" textLength="11.82" lengthAdjust="spacingAndGlyphs">0.0</text>
<line x1="614.80" y1="589.55" x2="620.30" y2="589.55" stroke="#000" stroke-width="1.40" />
<text x="600.10" y="592.47" style="font-size:8.50px;font-weight:bold;stroke:#000;stroke-width:0.25px" fill="#000" textLength="11.82" lengthAdjust="spacingAndGlyphs">0.5</text>
<line x1="614.80" y1="561.50" x2="620.30" y2="561.50" stroke="#000" stroke-width="1.40" />
<text x="600.23" y="564.42" style="font-size:8.50px;font-weight:bold;stroke:#000;stroke-width:0.25px" fill="#000" textLength="11.82" lengthAdjust="spacingAndGlyphs">1.0</text>
<line x1="614.80" y1="533.45" x2="620.30" y2="533.45" stroke="#000" stroke-width="1.40" />
<text x="600.10" y="536.37" style="font-size:8.50px;font-weight:bold;stroke:#000;stroke-width:0.25px" fill="#000" textLength="11.82" lengthAdjust="spacingAndGlyphs">1.5</text>
<line x1="614.80" y1="505.40" x2="620.30" y2="505.40" stroke="#000" stroke-width="1.40" />
<text x="600.23" y="508.32" style="font-size:8.50px;font-weight:bold;stroke:#000;stroke-width:0.25px" fill="#000" textLength="11.82" lengthAdjust="spacingAndGlyphs">2.0</text>
<line x1="614.80" y1="477.35" x2="620.30" y2="477.35" stroke="#000" stroke-width="1.40" />
<text x="600.10" y="480.27" style="font-size:8.50px;font-weight:bold;stroke:#000;stroke-width:0.25px" fill="#000" textLength="11.82" lengthAdjust="spacingAndGlyphs">2.5</text>
<line x1="620.30" y1="617.60" x2="719.20" y2="617.60" stroke="#000" stroke-width="1.60" />
<line x1="647.40" y1="617.60" x2="647.40" y2="622.90" stroke="#000" stroke-width="1.30" />
<line x1="692.00" y1="617.60" x2="692.00" y2="622.90" stroke="#000" stroke-width="1.30" />
<line x1="638.20" y1="556.40" x2="656.80" y2="556.40" stroke="#000" stroke-width="1.50" />
<line x1="638.20" y1="566.90" x2="656.80" y2="566.90" stroke="#000" stroke-width="1.50" />
<line x1="647.50" y1="556.40" x2="647.50" y2="566.90" stroke="#000" stroke-width="1.50" />
<circle cx="647.80" cy="543.20" r="1.40" fill="none" stroke="#111" stroke-width="1.25"/>
<circle cx="645.00" cy="551.10" r="1.40" fill="none" stroke="#111" stroke-width="1.25"/>
<circle cx="650.10" cy="551.10" r="1.40" fill="none" stroke="#111" stroke-width="1.25"/>
<circle cx="645.00" cy="572.00" r="1.40" fill="none" stroke="#111" stroke-width="1.25"/>
<circle cx="650.10" cy="572.70" r="1.40" fill="none" stroke="#111" stroke-width="1.25"/>
<circle cx="647.80" cy="579.70" r="1.40" fill="none" stroke="#111" stroke-width="1.25"/>
<circle cx="647.30" cy="561.60" r="1.30" fill="#111" stroke="#111" stroke-width="0.50"/>
<line x1="683.35" y1="497.00" x2="700.85" y2="497.00" stroke="#f72e16" stroke-width="1.80" />
<line x1="683.35" y1="520.80" x2="700.85" y2="520.80" stroke="#f72e16" stroke-width="1.80" />
<line x1="692.10" y1="497.00" x2="692.10" y2="520.80" stroke="#f72e16" stroke-width="1.80" />
<circle cx="692.00" cy="480.80" r="1.40" fill="none" stroke="#f72e16" stroke-width="1.25"/>
<circle cx="689.70" cy="510.60" r="1.40" fill="none" stroke="#f72e16" stroke-width="1.25"/>
<circle cx="694.40" cy="507.10" r="1.40" fill="none" stroke="#f72e16" stroke-width="1.25"/>
<circle cx="689.70" cy="531.50" r="1.40" fill="none" stroke="#f72e16" stroke-width="1.25"/>
<circle cx="694.40" cy="532.70" r="1.40" fill="none" stroke="#f72e16" stroke-width="1.25"/>
<circle cx="692.00" cy="544.10" r="1.40" fill="none" stroke="#f72e16" stroke-width="1.25"/>
<text x="685.66" y="480.95" style="font-size:18.77px;font-weight:bold;stroke:#000;stroke-width:0.00px" fill="#000" textLength="13.65" lengthAdjust="spacingAndGlyphs">**</text>
<text transform="translate(581.90 609.30) rotate(-90)" x="-0.75" y="0" style="font-size:11.54px;font-weight:bold;stroke:#000;stroke-width:0.15px" fill="#000" textLength="125.68" lengthAdjust="spacingAndGlyphs">Relative Fl-Lin28a CDS</text>
<text transform="translate(596.30 580.30) rotate(-90)" x="-0.77" y="0" style="font-size:11.84px;font-weight:bold;stroke:#000;stroke-width:0.15px" fill="#000" textLength="69.75" lengthAdjust="spacingAndGlyphs">protein level</text>
<text x="639.54" y="635.40" style="font-size:10.80px;font-weight:bold;stroke:#000;stroke-width:0.15px" fill="#000" textLength="15.61" lengthAdjust="spacingAndGlyphs">NT</text>
<text x="627.38" y="648.20" style="font-size:10.80px;font-weight:bold;stroke:#000;stroke-width:0.15px" fill="#000" textLength="39.96" lengthAdjust="spacingAndGlyphs">shRNA</text>
<text x="671.92" y="635.40" style="font-size:10.80px;font-weight:bold;stroke:#000;stroke-width:0.15px" fill="#000" textLength="34.08" lengthAdjust="spacingAndGlyphs">FMRP</text>
<text x="671.98" y="648.20" style="font-size:10.80px;font-weight:bold;stroke:#000;stroke-width:0.15px" fill="#000" textLength="39.86" lengthAdjust="spacingAndGlyphs">shRNA</text>
<text x="3.85" y="746.20" style="font-size:15.60px;font-weight:bold;stroke:#000;stroke-width:0.00px" fill="#000" textLength="12.56" lengthAdjust="spacingAndGlyphs">G</text>
<text x="110.27" y="781.30" style="font-size:11.00px;font-weight:bold;font-style:italic;stroke:#000;stroke-width:0.15px" fill="#000" textLength="28.27" lengthAdjust="spacingAndGlyphs">Fmr1</text>
<text x="85.50" y="795.00" style="font-size:11.20px;font-weight:bold;stroke:#000;stroke-width:0.15px" fill="#000" textLength="16.10" lengthAdjust="spacingAndGlyphs">WT</text>
<text x="114.91" y="795.00" style="font-size:11.20px;font-weight:bold;stroke:#000;stroke-width:0.15px" fill="#000" textLength="18.35" lengthAdjust="spacingAndGlyphs">KO</text>
<g>
<clipPath id="c651"><rect x="78.70" y="802.70" width="61.40" height="16.90"/></clipPath>
<rect x="78.70" y="802.70" width="61.40" height="16.90" fill="#b4b4b4" stroke="none" stroke-width="1.00" />
<g clip-path="url(#c651)">
<rect x="82.40" y="805.80" width="22.80" height="1.80" rx="0.72" fill="#707070" opacity="0.75" filter="url(#bl4)"/>
<rect x="113.80" y="805.60" width="22.80" height="1.80" rx="0.72" fill="#707070" opacity="0.75" filter="url(#bl4)"/>
<rect x="82.40" y="813.10" width="22.80" height="3.00" rx="1.20" fill="#080808" opacity="1.00" filter="url(#bl4)"/>
<rect x="113.80" y="812.55" width="22.80" height="3.50" rx="1.40" fill="#000" opacity="1.00" filter="url(#bl4)"/>
</g>
<rect x="78.70" y="802.70" width="61.40" height="16.90" fill="none" stroke="#111" stroke-width="1.50" />
</g>
<g>
<clipPath id="c662"><rect x="78.70" y="823.00" width="61.40" height="22.80"/></clipPath>
<rect x="78.70" y="823.00" width="61.40" height="22.80" fill="#bcbcbc" stroke="none" stroke-width="1.00" />
<g clip-path="url(#c662)">
<rect x="82.40" y="829.60" width="22.80" height="1.60" rx="0.64" fill="#8a8a8a" opacity="0.70" filter="url(#bl4)"/>
<rect x="113.80" y="829.40" width="22.80" height="1.60" rx="0.64" fill="#8a8a8a" opacity="0.70" filter="url(#bl4)"/>
<rect x="83.00" y="836.40" width="22.20" height="2.00" rx="0.80" fill="#333" opacity="0.90" filter="url(#bl4)"/>
<rect x="113.80" y="835.70" width="19.70" height="2.40" rx="0.96" fill="#222" opacity="0.95" filter="url(#bl4)"/>
</g>
<rect x="78.70" y="823.00" width="61.40" height="22.80" fill="none" stroke="#111" stroke-width="1.50" />
</g>
<g>
<clipPath id="c673"><rect x="78.70" y="850.10" width="61.40" height="11.50"/></clipPath>
<rect x="78.70" y="850.10" width="61.40" height="11.50" fill="#b8b8b8" stroke="none" stroke-width="1.00" />
<g clip-path="url(#c673)">
<rect x="81.80" y="855.00" width="24.60" height="2.00" rx="0.80" fill="#777" opacity="0.75" filter="url(#bl4)"/>
<rect x="110.80" y="855.00" width="24.60" height="2.00" rx="0.80" fill="#777" opacity="0.75" filter="url(#bl4)"/>
</g>
<rect x="78.70" y="850.10" width="61.40" height="11.50" fill="none" stroke="#111" stroke-width="1.50" />
</g>
<text x="25.83" y="810.40" style="font-size:11.80px;font-weight:bold;stroke:#000;stroke-width:0.15px" fill="#000" textLength="48.67" lengthAdjust="spacingAndGlyphs">pERK1/2</text>
<text x="30.41" y="819.50" style="font-size:7.80px;font-weight:bold;stroke:#000;stroke-width:0.25px" fill="#000" textLength="39.76" lengthAdjust="spacingAndGlyphs">(dark exp.)</text>
<text x="25.83" y="834.60" style="font-size:11.80px;font-weight:bold;stroke:#000;stroke-width:0.15px" fill="#000" textLength="48.67" lengthAdjust="spacingAndGlyphs">pERK1/2</text>
<text x="30.41" y="843.70" style="font-size:7.80px;font-weight:bold;stroke:#000;stroke-width:0.25px" fill="#000" textLength="39.79" lengthAdjust="spacingAndGlyphs">(light exp.)</text>
<text x="34.92" y="860.40" style="font-size:11.80px;font-weight:bold;stroke:#000;stroke-width:0.15px" fill="#000" textLength="38.75" lengthAdjust="spacingAndGlyphs">HSC70</text>
<text x="143.89" y="816.20" style="font-size:7.40px;font-weight:bold;stroke:#000;stroke-width:0.25px" fill="#000" textLength="18.33" lengthAdjust="spacingAndGlyphs">42kD</text>
<text x="143.89" y="839.70" style="font-size:7.40px;font-weight:bold;stroke:#000;stroke-width:0.25px" fill="#000" textLength="18.33" lengthAdjust="spacingAndGlyphs">42kD</text>
<text x="144.40" y="858.50" style="font-size:7.40px;font-weight:bold;stroke:#000;stroke-width:0.25px" fill="#000" textLength="17.80" lengthAdjust="spacingAndGlyphs">75kD</text>
<rect x="223.60" y="834.35" width="34.90" height="69.65" fill="#d9d9d9" stroke="#4a4a4a" stroke-width="0.90" />
<rect x="267.80" y="779.90" width="35.40" height="124.10" fill="#fde0dc" stroke="#f58a78" stroke-width="0.90" />
<line x1="213.10" y1="764.70" x2="213.10" y2="904.70" stroke="#000" stroke-width="1.40" />
<line x1="207.80" y1="904.00" x2="213.10" y2="904.00" stroke="#000" stroke-width="1.40" />
<text x="192.65" y="907.10" style="font-size:9.00px;font-weight:bold;stroke:#000;stroke-width:0.25px" fill="#000" textLength="12.51" lengthAdjust="spacingAndGlyphs">0.0</text>
<line x1="207.80" y1="869.17" x2="213.10" y2="869.17" stroke="#000" stroke-width="1.40" />
<text x="192.51" y="872.27" style="font-size:9.00px;font-weight:bold;stroke:#000;stroke-width:0.25px" fill="#000" textLength="12.51" lengthAdjust="spacingAndGlyphs">0.5</text>
<line x1="207.80" y1="834.35" x2="213.10" y2="834.35" stroke="#000" stroke-width="1.40" />
<text x="192.65" y="837.45" style="font-size:9.00px;font-weight:bold;stroke:#000;stroke-width:0.25px" fill="#000" textLength="12.51" lengthAdjust="spacingAndGlyphs">1.0</text>
<line x1="207.80" y1="799.52" x2="213.10" y2="799.52" stroke="#000" stroke-width="1.40" />
<text x="192.52" y="802.62" style="font-size:9.00px;font-weight:bold;stroke:#000;stroke-width:0.25px" fill="#000" textLength="12.51" lengthAdjust="spacingAndGlyphs">1.5</text>
<line x1="207.80" y1="764.70" x2="213.10" y2="764.70" stroke="#000" stroke-width="1.40" />
<text x="192.65" y="767.80" style="font-size:9.00px;font-weight:bold;stroke:#000;stroke-width:0.25px" fill="#000" textLength="12.51" lengthAdjust="spacingAndGlyphs">2.0</text>
<line x1="213.10" y1="904.00" x2="312.50" y2="904.00" stroke="#000" stroke-width="1.60" />
<line x1="241.00" y1="904.00" x2="241.00" y2="909.00" stroke="#000" stroke-width="1.30" />
<line x1="285.70" y1="904.00" x2="285.70" y2="909.00" stroke="#000" stroke-width="1.30" />
<line x1="232.40" y1="821.30" x2="249.60" y2="821.30" stroke="#222" stroke-width="1.50" />
<line x1="232.40" y1="847.90" x2="249.60" y2="847.90" stroke="#222" stroke-width="1.50" />
<line x1="241.00" y1="821.30" x2="241.00" y2="847.90" stroke="#222" stroke-width="1.50" />
<circle cx="241.00" cy="787.50" r="1.40" fill="none" stroke="#111" stroke-width="1.25"/>
<circle cx="241.00" cy="820.60" r="1.40" fill="none" stroke="#111" stroke-width="1.25"/>
<circle cx="237.50" cy="834.60" r="1.40" fill="none" stroke="#111" stroke-width="1.25"/>
<circle cx="244.50" cy="834.60" r="1.40" fill="none" stroke="#111" stroke-width="1.25"/>
<circle cx="241.00" cy="841.60" r="1.40" fill="none" stroke="#111" stroke-width="1.25"/>
<circle cx="241.00" cy="888.10" r="1.40" fill="none" stroke="#111" stroke-width="1.25"/>
<line x1="277.20" y1="776.40" x2="294.20" y2="776.40" stroke="#f72e16" stroke-width="1.50" />
<line x1="277.20" y1="782.40" x2="294.20" y2="782.40" stroke="#f72e16" stroke-width="1.50" />
<line x1="285.70" y1="776.40" x2="285.70" y2="782.40" stroke="#f72e16" stroke-width="1.50" />
<circle cx="283.40" cy="775.20" r="1.40" fill="none" stroke="#f72e16" stroke-width="1.25"/>
<circle cx="288.10" cy="773.60" r="1.40" fill="none" stroke="#f72e16" stroke-width="1.25"/>
<circle cx="285.70" cy="781.00" r="1.40" fill="none" stroke="#f72e16" stroke-width="1.25"/>
<circle cx="285.70" cy="788.00" r="1.40" fill="none" stroke="#f72e16" stroke-width="1.25"/>
<text x="282.68" y="771.71" style="font-size:17.56px;font-weight:bold;stroke:#000;stroke-width:0.00px" fill="#000" textLength="6.83" lengthAdjust="spacingAndGlyphs">*</text>
<text transform="translate(185.50 919.00) rotate(-90)" x="-0.78" y="0" style="font-size:11.99px;font-weight:bold;stroke:#000;stroke-width:0.15px" fill="#000" textLength="172.61" lengthAdjust="spacingAndGlyphs">Relative pERK1/2 protein level</text>
<text x="232.50" y="923.80" style="font-size:11.00px;font-weight:bold;stroke:#000;stroke-width:0.15px" fill="#000" textLength="17.11" lengthAdjust="spacingAndGlyphs">WT</text>
<text x="260.56" y="924.00" style="font-size:11.20px;stroke:#000;stroke-width:0.15px" fill="#000" textLength="50.55" lengthAdjust="spacingAndGlyphs"><tspan style="font-weight:bold;font-style:italic">Fmr1</tspan><tspan style="font-weight:bold"> KO</tspan></text>
<text x="370.60" y="718.80" style="font-size:14.80px;font-weight:bold;stroke:#000;stroke-width:0.00px" fill="#000" textLength="13.34" lengthAdjust="spacingAndGlyphs">H</text>
<rect x="429.10" y="825.90" width="17.80" height="79.90" fill="#d9d9d9" stroke="#4a4a4a" stroke-width="1.00" />
<rect x="452.40" y="833.33" width="18.10" height="72.47" fill="url(#hg)" stroke="#444" stroke-width="1.00" />
<rect x="475.30" y="847.71" width="18.20" height="58.09" fill="#fde0dc" stroke="#f58a78" stroke-width="1.00" />
<rect x="498.30" y="823.18" width="18.20" height="82.62" fill="url(#hp)" stroke="#f0503a" stroke-width="1.00" />
<rect x="530.30" y="825.90" width="18.30" height="79.90" fill="#d9d9d9" stroke="#4a4a4a" stroke-width="1.00" />
<rect x="553.30" y="823.50" width="18.60" height="82.30" fill="url(#hg)" stroke="#444" stroke-width="1.00" />
<rect x="576.60" y="844.28" width="18.30" height="61.52" fill="#fde0dc" stroke="#f58a78" stroke-width="1.00" />
<rect x="599.90" y="819.51" width="18.60" height="86.29" fill="url(#hp)" stroke="#f0503a" stroke-width="1.00" />
<rect x="632.10" y="825.90" width="18.50" height="79.90" fill="#d9d9d9" stroke="#4a4a4a" stroke-width="1.00" />
<rect x="655.10" y="825.02" width="18.50" height="80.78" fill="url(#hg)" stroke="#444" stroke-width="1.00" />
<rect x="678.30" y="831.49" width="18.50" height="74.31" fill="#fde0dc" stroke="#f58a78" stroke-width="1.00" />
<rect x="701.30" y="833.09" width="18.50" height="72.71" fill="url(#hp)" stroke="#f0503a" stroke-width="1.00" />
<line x1="420.30" y1="746.00" x2="420.30" y2="906.50" stroke="#000" stroke-width="1.40" />
<line x1="414.50" y1="905.80" x2="420.30" y2="905.80" stroke="#000" stroke-width="1.40" />
<text x="399.52" y="908.83" style="font-size:8.80px;font-weight:bold;stroke:#000;stroke-width:0.25px" fill="#000" textLength="12.23" lengthAdjust="spacingAndGlyphs">0.0</text>
<line x1="414.50" y1="865.85" x2="420.30" y2="865.85" stroke="#000" stroke-width="1.40" />
<text x="399.39" y="868.88" style="font-size:8.80px;font-weight:bold;stroke:#000;stroke-width:0.25px" fill="#000" textLength="12.23" lengthAdjust="spacingAndGlyphs">0.5</text>
<line x1="414.50" y1="825.90" x2="420.30" y2="825.90" stroke="#000" stroke-width="1.40" />
<text x="399.52" y="828.93" style="font-size:8.80px;font-weight:bold;stroke:#000;stroke-width:0.25px" fill="#000" textLength="12.23" lengthAdjust="spacingAndGlyphs">1.0</text>
<line x1="414.50" y1="785.95" x2="420.30" y2="785.95" stroke="#000" stroke-width="1.40" />
<text x="399.39" y="788.98" style="font-size:8.80px;font-weight:bold;stroke:#000;stroke-width:0.25px" fill="#000" textLength="12.23" lengthAdjust="spacingAndGlyphs">1.5</text>
<line x1="414.50" y1="746.00" x2="420.30" y2="746.00" stroke="#000" stroke-width="1.40" />
<text x="399.52" y="749.03" style="font-size:8.80px;font-weight:bold;stroke:#000;stroke-width:0.25px" fill="#000" textLength="12.23" lengthAdjust="spacingAndGlyphs">2.0</text>
<line x1="420.30" y1="905.80" x2="727.80" y2="905.80" stroke="#000" stroke-width="2.00" />
<circle cx="438.00" cy="793.30" r="1.85" fill="none" stroke="#8a8a8a" stroke-width="1.00"/>
<circle cx="431.20" cy="814.40" r="1.85" fill="none" stroke="#8a8a8a" stroke-width="1.00"/>
<circle cx="440.10" cy="816.40" r="1.85" fill="none" stroke="#8a8a8a" stroke-width="1.00"/>
<circle cx="444.90" cy="814.40" r="1.85" fill="none" stroke="#8a8a8a" stroke-width="1.00"/>
<circle cx="436.00" cy="819.60" r="1.85" fill="none" stroke="#8a8a8a" stroke-width="1.00"/>
<circle cx="431.80" cy="825.80" r="1.85" fill="none" stroke="#8a8a8a" stroke-width="1.00"/>
<circle cx="444.20" cy="826.40" r="1.85" fill="none" stroke="#8a8a8a" stroke-width="1.00"/>
<circle cx="438.00" cy="831.20" r="1.85" fill="none" stroke="#8a8a8a" stroke-width="1.00"/>
<circle cx="442.80" cy="831.90" r="1.85" fill="none" stroke="#8a8a8a" stroke-width="1.00"/>
<circle cx="432.90" cy="835.10" r="1.85" fill="none" stroke="#8a8a8a" stroke-width="1.00"/>
<circle cx="438.00" cy="837.40" r="1.85" fill="none" stroke="#8a8a8a" stroke-width="1.00"/>
<circle cx="438.00" cy="858.40" r="1.85" fill="none" stroke="#8a8a8a" stroke-width="1.00"/>
<circle cx="464.00" cy="798.10" r="1.85" fill="none" stroke="#444" stroke-width="1.00"/>
<circle cx="458.60" cy="802.10" r="1.85" fill="none" stroke="#444" stroke-width="1.00"/>
<circle cx="461.30" cy="825.80" r="1.85" fill="none" stroke="#444" stroke-width="1.00"/>
<circle cx="458.60" cy="846.30" r="1.85" fill="none" stroke="#444" stroke-width="1.00"/>
<circle cx="464.00" cy="851.10" r="1.85" fill="none" stroke="#444" stroke-width="1.00"/>
<circle cx="461.30" cy="867.10" r="1.85" fill="none" stroke="#444" stroke-width="1.00"/>
<circle cx="484.20" cy="822.70" r="1.85" fill="none" stroke="#f98a7a" stroke-width="1.00"/>
<circle cx="484.20" cy="831.00" r="1.85" fill="none" stroke="#f98a7a" stroke-width="1.00"/>
<circle cx="486.90" cy="834.40" r="1.85" fill="none" stroke="#f98a7a" stroke-width="1.00"/>
<circle cx="479.10" cy="837.80" r="1.85" fill="none" stroke="#f98a7a" stroke-width="1.00"/>
<circle cx="482.30" cy="839.90" r="1.85" fill="none" stroke="#f98a7a" stroke-width="1.00"/>
<circle cx="489.40" cy="843.80" r="1.85" fill="none" stroke="#f98a7a" stroke-width="1.00"/>
<circle cx="481.80" cy="849.70" r="1.85" fill="none" stroke="#f98a7a" stroke-width="1.00"/>
<circle cx="481.80" cy="869.60" r="1.85" fill="none" stroke="#f98a7a" stroke-width="1.00"/>
<circle cx="486.90" cy="870.70" r="1.85" fill="none" stroke="#f98a7a" stroke-width="1.00"/>
<circle cx="484.20" cy="878.10" r="1.85" fill="none" stroke="#f98a7a" stroke-width="1.00"/>
<circle cx="504.70" cy="797.40" r="1.85" fill="none" stroke="#f72e16" stroke-width="1.00"/>
<circle cx="510.20" cy="798.80" r="1.85" fill="none" stroke="#f72e16" stroke-width="1.00"/>
<circle cx="502.40" cy="825.80" r="1.85" fill="none" stroke="#f72e16" stroke-width="1.00"/>
<circle cx="513.40" cy="826.40" r="1.85" fill="none" stroke="#f72e16" stroke-width="1.00"/>
<circle cx="507.60" cy="837.80" r="1.85" fill="none" stroke="#f72e16" stroke-width="1.00"/>
<circle cx="507.60" cy="848.10" r="1.85" fill="none" stroke="#f72e16" stroke-width="1.00"/>
<circle cx="539.40" cy="783.90" r="1.85" fill="none" stroke="#8a8a8a" stroke-width="1.00"/>
<circle cx="539.40" cy="799.00" r="1.85" fill="none" stroke="#8a8a8a" stroke-width="1.00"/>
<circle cx="539.40" cy="811.10" r="1.85" fill="none" stroke="#8a8a8a" stroke-width="1.00"/>
<circle cx="534.10" cy="818.70" r="1.85" fill="none" stroke="#8a8a8a" stroke-width="1.00"/>
<circle cx="539.40" cy="817.90" r="1.85" fill="none" stroke="#8a8a8a" stroke-width="1.00"/>
<circle cx="544.70" cy="820.20" r="1.85" fill="none" stroke="#8a8a8a" stroke-width="1.00"/>
<circle cx="532.60" cy="835.30" r="1.85" fill="none" stroke="#8a8a8a" stroke-width="1.00"/>
<circle cx="537.10" cy="838.00" r="1.85" fill="none" stroke="#8a8a8a" stroke-width="1.00"/>
<circle cx="541.60" cy="835.30" r="1.85" fill="none" stroke="#8a8a8a" stroke-width="1.00"/>
<circle cx="546.20" cy="833.50" r="1.85" fill="none" stroke="#8a8a8a" stroke-width="1.00"/>
<circle cx="539.40" cy="832.30" r="1.85" fill="none" stroke="#8a8a8a" stroke-width="1.00"/>
<circle cx="537.10" cy="843.20" r="1.85" fill="none" stroke="#8a8a8a" stroke-width="1.00"/>
<circle cx="541.90" cy="844.10" r="1.85" fill="none" stroke="#8a8a8a" stroke-width="1.00"/>
<circle cx="539.40" cy="850.00" r="1.85" fill="none" stroke="#8a8a8a" stroke-width="1.00"/>
<circle cx="534.00" cy="826.00" r="1.85" fill="none" stroke="#8a8a8a" stroke-width="1.00"/>
<circle cx="544.00" cy="826.00" r="1.85" fill="none" stroke="#8a8a8a" stroke-width="1.00"/>
<circle cx="562.80" cy="771.00" r="1.85" fill="none" stroke="#444" stroke-width="1.00"/>
<circle cx="557.50" cy="825.50" r="1.85" fill="none" stroke="#444" stroke-width="1.00"/>
<circle cx="568.10" cy="828.50" r="1.85" fill="none" stroke="#444" stroke-width="1.00"/>
<circle cx="562.80" cy="841.40" r="1.85" fill="none" stroke="#444" stroke-width="1.00"/>
<circle cx="562.80" cy="846.70" r="1.85" fill="none" stroke="#444" stroke-width="1.00"/>
<circle cx="562.80" cy="830.00" r="1.85" fill="none" stroke="#444" stroke-width="1.00"/>
<circle cx="585.80" cy="798.00" r="1.85" fill="none" stroke="#f98a7a" stroke-width="1.00"/>
<circle cx="580.70" cy="832.70" r="1.85" fill="none" stroke="#f98a7a" stroke-width="1.00"/>
<circle cx="585.80" cy="830.80" r="1.85" fill="none" stroke="#f98a7a" stroke-width="1.00"/>
<circle cx="591.10" cy="833.80" r="1.85" fill="none" stroke="#f98a7a" stroke-width="1.00"/>
<circle cx="585.80" cy="837.60" r="1.85" fill="none" stroke="#f98a7a" stroke-width="1.00"/>
<circle cx="580.70" cy="841.10" r="1.85" fill="none" stroke="#f98a7a" stroke-width="1.00"/>
<circle cx="591.10" cy="841.10" r="1.85" fill="none" stroke="#f98a7a" stroke-width="1.00"/>
<circle cx="583.20" cy="851.20" r="1.85" fill="none" stroke="#f98a7a" stroke-width="1.00"/>
<circle cx="580.70" cy="857.20" r="1.85" fill="none" stroke="#f98a7a" stroke-width="1.00"/>
<circle cx="591.10" cy="856.20" r="1.85" fill="none" stroke="#f98a7a" stroke-width="1.00"/>
<circle cx="585.80" cy="859.20" r="1.85" fill="none" stroke="#f98a7a" stroke-width="1.00"/>
<circle cx="583.20" cy="865.30" r="1.85" fill="none" stroke="#f98a7a" stroke-width="1.00"/>
<circle cx="588.50" cy="864.10" r="1.85" fill="none" stroke="#f98a7a" stroke-width="1.00"/>
<circle cx="609.30" cy="789.20" r="1.85" fill="none" stroke="#f72e16" stroke-width="1.00"/>
<circle cx="609.30" cy="794.80" r="1.85" fill="none" stroke="#f72e16" stroke-width="1.00"/>
<circle cx="606.70" cy="824.00" r="1.85" fill="none" stroke="#f72e16" stroke-width="1.00"/>
<circle cx="612.00" cy="829.00" r="1.85" fill="none" stroke="#f72e16" stroke-width="1.00"/>
<circle cx="606.70" cy="835.60" r="1.85" fill="none" stroke="#f72e16" stroke-width="1.00"/>
<circle cx="612.00" cy="835.30" r="1.85" fill="none" stroke="#f72e16" stroke-width="1.00"/>
<circle cx="641.00" cy="801.90" r="1.85" fill="none" stroke="#8a8a8a" stroke-width="1.00"/>
<circle cx="634.80" cy="821.00" r="1.85" fill="none" stroke="#8a8a8a" stroke-width="1.00"/>
<circle cx="641.00" cy="817.90" r="1.85" fill="none" stroke="#8a8a8a" stroke-width="1.00"/>
<circle cx="647.90" cy="822.30" r="1.85" fill="none" stroke="#8a8a8a" stroke-width="1.00"/>
<circle cx="637.90" cy="825.50" r="1.85" fill="none" stroke="#8a8a8a" stroke-width="1.00"/>
<circle cx="643.80" cy="833.30" r="1.85" fill="none" stroke="#8a8a8a" stroke-width="1.00"/>
<circle cx="641.00" cy="854.70" r="1.85" fill="none" stroke="#8a8a8a" stroke-width="1.00"/>
<circle cx="664.30" cy="785.50" r="1.85" fill="none" stroke="#444" stroke-width="1.00"/>
<circle cx="658.80" cy="832.30" r="1.85" fill="none" stroke="#444" stroke-width="1.00"/>
<circle cx="664.30" cy="832.30" r="1.85" fill="none" stroke="#444" stroke-width="1.00"/>
<circle cx="669.80" cy="828.90" r="1.85" fill="none" stroke="#444" stroke-width="1.00"/>
<circle cx="661.60" cy="838.10" r="1.85" fill="none" stroke="#444" stroke-width="1.00"/>
<circle cx="667.00" cy="835.50" r="1.85" fill="none" stroke="#444" stroke-width="1.00"/>
<circle cx="687.20" cy="801.20" r="1.85" fill="none" stroke="#f98a7a" stroke-width="1.00"/>
<circle cx="682.10" cy="835.50" r="1.85" fill="none" stroke="#f98a7a" stroke-width="1.00"/>
<circle cx="687.20" cy="838.50" r="1.85" fill="none" stroke="#f98a7a" stroke-width="1.00"/>
<circle cx="692.40" cy="837.10" r="1.85" fill="none" stroke="#f98a7a" stroke-width="1.00"/>
<circle cx="684.50" cy="837.50" r="1.85" fill="none" stroke="#f98a7a" stroke-width="1.00"/>
<circle cx="690.00" cy="838.50" r="1.85" fill="none" stroke="#f98a7a" stroke-width="1.00"/>
<circle cx="705.40" cy="823.40" r="1.85" fill="none" stroke="#f72e16" stroke-width="1.00"/>
<circle cx="715.90" cy="823.40" r="1.85" fill="none" stroke="#f72e16" stroke-width="1.00"/>
<circle cx="710.60" cy="826.80" r="1.85" fill="none" stroke="#f72e16" stroke-width="1.00"/>
<circle cx="705.40" cy="831.00" r="1.85" fill="none" stroke="#f72e16" stroke-width="1.00"/>
<circle cx="715.90" cy="829.90" r="1.85" fill="none" stroke="#f72e16" stroke-width="1.00"/>
<circle cx="705.40" cy="841.00" r="1.85" fill="none" stroke="#f72e16" stroke-width="1.00"/>
<circle cx="710.60" cy="843.30" r="1.85" fill="none" stroke="#f72e16" stroke-width="1.00"/>
<circle cx="715.90" cy="842.60" r="1.85" fill="none" stroke="#f72e16" stroke-width="1.00"/>
<line x1="433.20" y1="821.90" x2="442.80" y2="821.90" stroke="#000" stroke-width="1.70" />
<line x1="433.20" y1="829.50" x2="442.80" y2="829.50" stroke="#000" stroke-width="1.70" />
<line x1="438.00" y1="821.90" x2="438.00" y2="829.50" stroke="#000" stroke-width="1.70" />
<line x1="456.70" y1="823.60" x2="466.30" y2="823.60" stroke="#000" stroke-width="1.70" />
<line x1="456.70" y1="843.20" x2="466.30" y2="843.20" stroke="#000" stroke-width="1.70" />
<line x1="461.50" y1="823.60" x2="461.50" y2="843.20" stroke="#000" stroke-width="1.70" />
<line x1="479.60" y1="842.00" x2="489.20" y2="842.00" stroke="#f72e16" stroke-width="1.70" />
<line x1="479.60" y1="853.00" x2="489.20" y2="853.00" stroke="#f72e16" stroke-width="1.70" />
<line x1="484.40" y1="842.00" x2="484.40" y2="853.00" stroke="#f72e16" stroke-width="1.70" />
<line x1="502.60" y1="816.20" x2="512.20" y2="816.20" stroke="#f72e16" stroke-width="1.70" />
<line x1="502.60" y1="830.40" x2="512.20" y2="830.40" stroke="#f72e16" stroke-width="1.70" />
<line x1="507.40" y1="816.20" x2="507.40" y2="830.40" stroke="#f72e16" stroke-width="1.70" />
<line x1="534.80" y1="821.40" x2="544.40" y2="821.40" stroke="#000" stroke-width="1.70" />
<line x1="534.80" y1="829.90" x2="544.40" y2="829.90" stroke="#000" stroke-width="1.70" />
<line x1="539.60" y1="821.40" x2="539.60" y2="829.90" stroke="#000" stroke-width="1.70" />
<line x1="558.10" y1="812.60" x2="567.70" y2="812.60" stroke="#000" stroke-width="1.70" />
<line x1="558.10" y1="832.60" x2="567.70" y2="832.60" stroke="#000" stroke-width="1.70" />
<line x1="562.90" y1="812.60" x2="562.90" y2="832.60" stroke="#000" stroke-width="1.70" />
<line x1="581.40" y1="840.00" x2="591.00" y2="840.00" stroke="#f72e16" stroke-width="1.70" />
<line x1="581.40" y1="848.20" x2="591.00" y2="848.20" stroke="#f72e16" stroke-width="1.70" />
<line x1="586.20" y1="840.00" x2="586.20" y2="848.20" stroke="#f72e16" stroke-width="1.70" />
<line x1="604.70" y1="811.80" x2="614.30" y2="811.80" stroke="#f72e16" stroke-width="1.70" />
<line x1="604.70" y1="825.50" x2="614.30" y2="825.50" stroke="#f72e16" stroke-width="1.70" />
<line x1="609.50" y1="811.80" x2="609.50" y2="825.50" stroke="#f72e16" stroke-width="1.70" />
<line x1="636.50" y1="821.60" x2="645.90" y2="821.60" stroke="#000" stroke-width="1.70" />
<line x1="636.50" y1="829.90" x2="645.90" y2="829.90" stroke="#000" stroke-width="1.70" />
<line x1="641.20" y1="821.60" x2="641.20" y2="829.90" stroke="#000" stroke-width="1.70" />
<line x1="659.50" y1="818.90" x2="669.10" y2="818.90" stroke="#000" stroke-width="1.70" />
<line x1="659.50" y1="830.30" x2="669.10" y2="830.30" stroke="#000" stroke-width="1.70" />
<line x1="664.30" y1="818.90" x2="664.30" y2="830.30" stroke="#000" stroke-width="1.70" />
<line x1="682.30" y1="826.20" x2="692.10" y2="826.20" stroke="#f72e16" stroke-width="1.70" />
<line x1="682.30" y1="836.40" x2="692.10" y2="836.40" stroke="#f72e16" stroke-width="1.70" />
<line x1="687.20" y1="826.20" x2="687.20" y2="836.40" stroke="#f72e16" stroke-width="1.70" />
<line x1="705.80" y1="829.90" x2="715.40" y2="829.90" stroke="#f72e16" stroke-width="1.70" />
<line x1="705.80" y1="835.30" x2="715.40" y2="835.30" stroke="#f72e16" stroke-width="1.70" />
<line x1="710.60" y1="829.90" x2="710.60" y2="835.30" stroke="#f72e16" stroke-width="1.70" />
<path d="M437.30 789.20 L437.30 785.60 L485.30 785.60 L485.30 789.20" stroke="#222" stroke-width="1.20" fill="none" />
<text x="457.14" y="785.23" style="font-size:11.20px;font-weight:bold;stroke:#000;stroke-width:0.00px" fill="#000" textLength="8.69" lengthAdjust="spacingAndGlyphs">**</text>
<path d="M486.40 780.50 L486.40 776.70 L509.00 776.70 L509.00 780.50" stroke="#222" stroke-width="1.20" fill="none" />
<text x="494.09" y="777.03" style="font-size:11.20px;font-weight:bold;stroke:#000;stroke-width:0.00px" fill="#000" textLength="9.00" lengthAdjust="spacingAndGlyphs">**</text>
<path d="M540.10 763.90 L540.10 760.40 L588.20 760.40 L588.20 763.90" stroke="#222" stroke-width="1.20" fill="none" />
<text x="559.44" y="760.55" style="font-size:11.81px;font-weight:bold;stroke:#000;stroke-width:0.00px" fill="#000" textLength="9.50" lengthAdjust="spacingAndGlyphs">**</text>
<path d="M589.30 755.10 L589.30 751.30 L612.00 751.30 L612.00 755.10" stroke="#222" stroke-width="1.20" fill="none" />
<text x="597.24" y="751.74" style="font-size:11.50px;font-weight:bold;stroke:#000;stroke-width:0.00px" fill="#000" textLength="8.69" lengthAdjust="spacingAndGlyphs">**</text>
<rect x="429.90" y="694.90" width="110.50" height="50.70" fill="#fff" stroke="#000" stroke-width="1.50" />
<rect x="435.20" y="699.50" width="13.10" height="6.90" fill="#d9d9d9" stroke="#555" stroke-width="0.90" rx="0.8"/>
<rect x="435.20" y="710.90" width="13.10" height="6.70" fill="url(#hg)" stroke="#555" stroke-width="0.90" />
<rect x="435.20" y="722.10" width="13.10" height="7.00" fill="#fde0dc" stroke="#f7705c" stroke-width="0.90" rx="0.8"/>
<rect x="435.20" y="733.10" width="13.10" height="7.00" fill="url(#hp)" stroke="#f7705c" stroke-width="0.90" />
<text x="455.90" y="706.40" style="font-size:9.00px;font-weight:bold;stroke:#000;stroke-width:0.25px" fill="#000" textLength="56.23" lengthAdjust="spacingAndGlyphs">WT + vehicle</text>
<text x="455.90" y="717.60" style="font-size:9.00px;font-weight:bold;stroke:#000;stroke-width:0.25px" fill="#000" textLength="51.67" lengthAdjust="spacingAndGlyphs">WT + SL327</text>
<text x="454.91" y="728.80" style="font-size:9.00px;stroke:#000;stroke-width:0.25px" fill="#000" textLength="81.95" lengthAdjust="spacingAndGlyphs"><tspan style="font-weight:bold;font-style:italic">Fmr1</tspan><tspan style="font-weight:bold"> KO + vehicle</tspan></text>
<text x="454.91" y="740.10" style="font-size:9.00px;stroke:#000;stroke-width:0.25px" fill="#000" textLength="77.35" lengthAdjust="spacingAndGlyphs"><tspan style="font-weight:bold;font-style:italic">Fmr1</tspan><tspan style="font-weight:bold"> KO + SL327</tspan></text>
<text transform="translate(391.60 908.50) rotate(-90)" x="-0.81" y="0" style="font-size:12.51px;font-weight:bold;stroke:#000;stroke-width:0.15px" fill="#000" textLength="169.18" lengthAdjust="spacingAndGlyphs">Relative mature miRNA level</text>
<text x="454.18" y="919.80" style="font-size:11.00px;font-weight:bold;stroke:#000;stroke-width:0.15px" fill="#000" textLength="37.10" lengthAdjust="spacingAndGlyphs">Let-7a</text>
<text x="555.15" y="919.80" style="font-size:11.00px;font-weight:bold;stroke:#000;stroke-width:0.15px" fill="#000" textLength="39.31" lengthAdjust="spacingAndGlyphs">Let-7g</text>
<text x="650.56" y="919.80" style="font-size:11.00px;font-weight:bold;stroke:#000;stroke-width:0.15px" fill="#000" textLength="50.37" lengthAdjust="spacingAndGlyphs">miR-132</text>
</svg></body></html>
